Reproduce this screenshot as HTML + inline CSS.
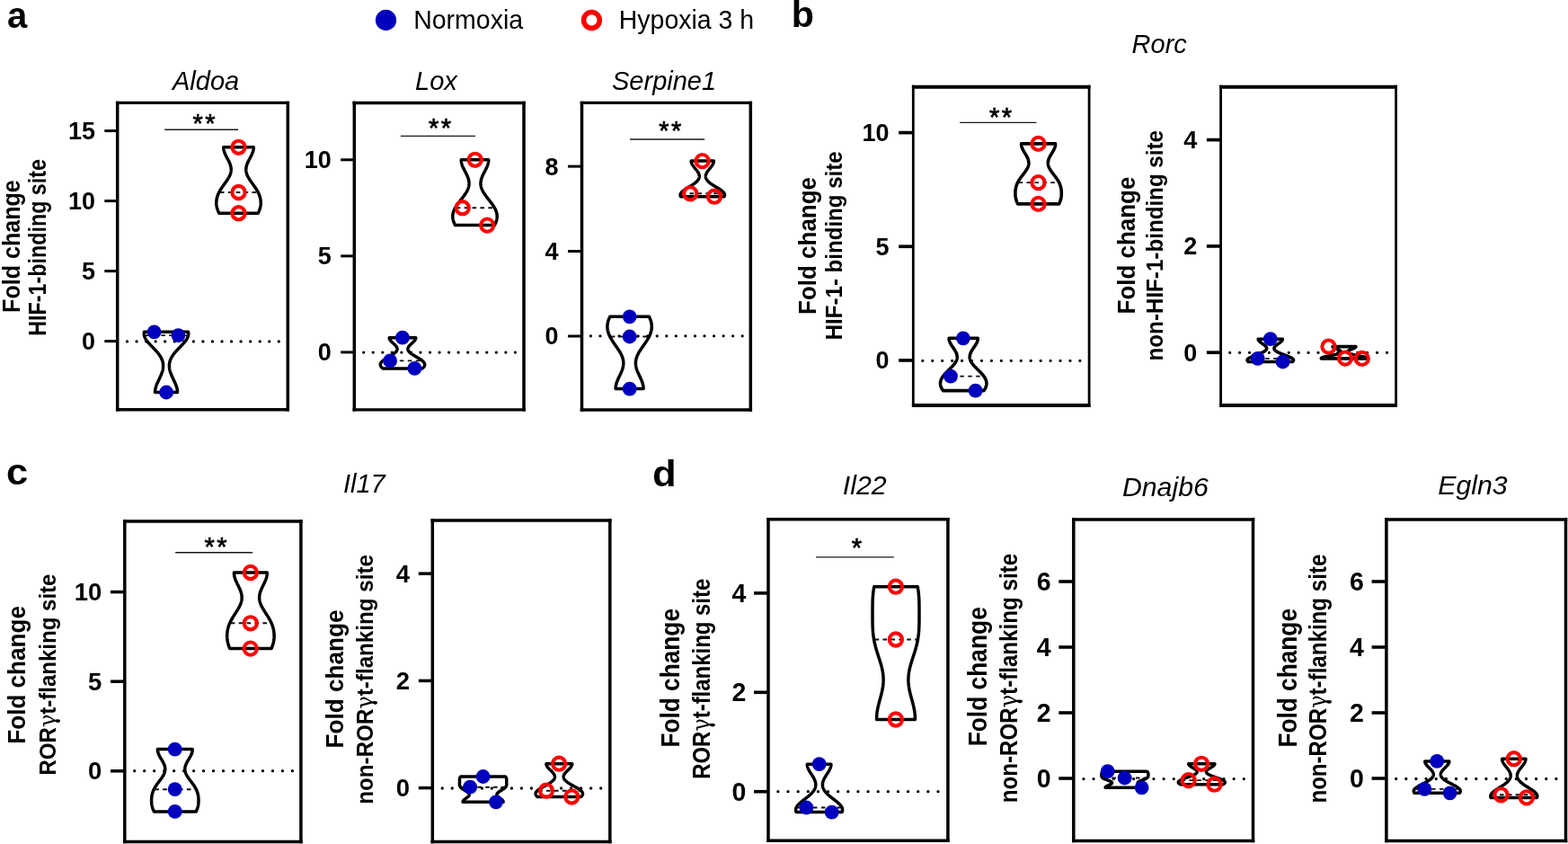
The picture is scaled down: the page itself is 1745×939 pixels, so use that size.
<!DOCTYPE html>
<html><head><meta charset="utf-8"><title>Figure</title>
<style>
html,body{margin:0;padding:0;background:#fff;}
svg{display:block;}
text{font-family:"Liberation Sans",Arial,Helvetica,sans-serif;fill:#000;}
.tk{font-size:27px;font-weight:bold;}
.yl1{font-size:28.5px;font-weight:bold;}
.yl2{font-size:26.5px;font-weight:bold;}
.gam{font-family:"DejaVu Serif","Liberation Serif",serif;font-weight:normal;}
.ti{font-size:29px;font-style:italic;}
.lg{font-size:28.5px;}
.pl{font-size:40px;font-weight:bold;}
.st{font-size:29px;stroke:#000;stroke-width:0.7px;}
</style></head><body>
<svg width="1745" height="939" viewBox="0 0 1745 939">
<rect width="1745" height="939" fill="#fff"/>
<line x1="141.5" y1="379.9" x2="310.31" y2="379.9" stroke="#000" stroke-width="3.3" stroke-linecap="round" stroke-dasharray="0 10.5500"/>
<line x1="116.3" y1="379.63" x2="130.7" y2="379.63" stroke="#000" stroke-width="3.0"/>
<text transform="translate(105.90,389.02) scale(1,1.03)" class="tk" style="font-size:27px" text-anchor="end">0</text>
<line x1="116.3" y1="301.61" x2="130.7" y2="301.61" stroke="#000" stroke-width="3.0"/>
<text transform="translate(105.90,311.00) scale(1,1.03)" class="tk" style="font-size:27px" text-anchor="end">5</text>
<line x1="116.3" y1="223.59" x2="130.7" y2="223.59" stroke="#000" stroke-width="3.0"/>
<text transform="translate(105.90,232.98) scale(1,1.03)" class="tk" style="font-size:27px" text-anchor="end">10</text>
<line x1="116.3" y1="145.57" x2="130.7" y2="145.57" stroke="#000" stroke-width="3.0"/>
<text transform="translate(105.90,154.96) scale(1,1.03)" class="tk" style="font-size:27px" text-anchor="end">15</text>
<path d="M160.49,369.30 L160.41,369.72 L160.36,370.14 L160.32,370.56 L160.30,370.98 L160.30,371.40 L160.32,371.82 L160.36,372.24 L160.41,372.66 L160.48,373.08 L160.58,373.50 L160.69,373.92 L160.82,374.34 L160.96,374.76 L161.13,375.18 L161.31,375.60 L161.50,376.02 L161.72,376.44 L161.94,376.86 L162.19,377.28 L162.45,377.70 L162.72,378.12 L163.00,378.54 L163.30,378.96 L163.61,379.38 L163.93,379.80 L164.27,380.22 L164.61,380.64 L164.96,381.06 L165.32,381.48 L165.69,381.90 L166.07,382.32 L166.45,382.74 L166.84,383.16 L167.23,383.58 L167.63,384.00 L168.03,384.42 L168.43,384.84 L168.84,385.26 L169.25,385.68 L169.66,386.10 L170.06,386.52 L170.47,386.94 L170.88,387.36 L171.28,387.78 L171.69,388.20 L172.09,388.62 L172.48,389.04 L172.88,389.46 L173.26,389.88 L173.65,390.30 L174.02,390.72 L174.39,391.14 L174.76,391.56 L175.11,391.98 L175.46,392.40 L175.80,392.82 L176.14,393.24 L176.46,393.66 L176.78,394.08 L177.09,394.50 L177.39,394.92 L177.68,395.34 L177.95,395.76 L178.22,396.18 L178.48,396.60 L178.73,397.02 L178.97,397.44 L179.20,397.86 L179.42,398.28 L179.63,398.70 L179.83,399.12 L180.01,399.54 L180.19,399.96 L180.36,400.38 L180.51,400.80 L180.66,401.22 L180.79,401.64 L180.91,402.06 L181.03,402.48 L181.13,402.90 L181.22,403.32 L181.31,403.74 L181.38,404.16 L181.44,404.58 L181.49,405.00 L181.53,405.42 L181.56,405.84 L181.59,406.26 L181.60,406.68 L181.60,407.10 L181.59,407.52 L181.58,407.94 L181.55,408.36 L181.52,408.78 L181.48,409.20 L181.43,409.62 L181.37,410.04 L181.30,410.46 L181.22,410.88 L181.14,411.30 L181.05,411.72 L180.95,412.14 L180.84,412.56 L180.73,412.98 L180.61,413.40 L180.48,413.82 L180.35,414.24 L180.21,414.66 L180.06,415.08 L179.91,415.50 L179.75,415.92 L179.59,416.34 L179.42,416.76 L179.25,417.18 L179.08,417.60 L178.90,418.02 L178.71,418.44 L178.53,418.86 L178.34,419.28 L178.14,419.70 L177.95,420.12 L177.75,420.54 L177.55,420.96 L177.35,421.38 L177.15,421.80 L176.95,422.22 L176.75,422.64 L176.55,423.06 L176.35,423.48 L176.15,423.90 L175.95,424.32 L175.76,424.74 L175.56,425.16 L175.37,425.58 L175.19,426.00 L175.00,426.42 L174.82,426.84 L174.65,427.26 L174.48,427.68 L174.31,428.10 L174.15,428.52 L174.00,428.94 L173.85,429.36 L173.71,429.78 L173.58,430.20 L173.45,430.62 L173.33,431.04 L173.22,431.46 L173.11,431.88 L173.02,432.30 L172.93,432.72 L172.85,433.14 L172.78,433.56 L172.72,433.98 L172.67,434.40 L172.62,434.82 L172.59,435.24 L172.57,435.66 L172.55,436.08 L172.55,436.50 L197.45,436.50 L197.45,436.08 L197.43,435.66 L197.41,435.24 L197.38,434.82 L197.33,434.40 L197.28,433.98 L197.22,433.56 L197.15,433.14 L197.07,432.72 L196.98,432.30 L196.89,431.88 L196.78,431.46 L196.67,431.04 L196.55,430.62 L196.42,430.20 L196.29,429.78 L196.15,429.36 L196.00,428.94 L195.85,428.52 L195.69,428.10 L195.52,427.68 L195.35,427.26 L195.18,426.84 L195.00,426.42 L194.81,426.00 L194.63,425.58 L194.44,425.16 L194.24,424.74 L194.05,424.32 L193.85,423.90 L193.65,423.48 L193.45,423.06 L193.25,422.64 L193.05,422.22 L192.85,421.80 L192.65,421.38 L192.45,420.96 L192.25,420.54 L192.05,420.12 L191.86,419.70 L191.66,419.28 L191.47,418.86 L191.29,418.44 L191.10,418.02 L190.92,417.60 L190.75,417.18 L190.58,416.76 L190.41,416.34 L190.25,415.92 L190.09,415.50 L189.94,415.08 L189.79,414.66 L189.65,414.24 L189.52,413.82 L189.39,413.40 L189.27,412.98 L189.16,412.56 L189.05,412.14 L188.95,411.72 L188.86,411.30 L188.78,410.88 L188.70,410.46 L188.63,410.04 L188.57,409.62 L188.52,409.20 L188.48,408.78 L188.45,408.36 L188.42,407.94 L188.41,407.52 L188.40,407.10 L188.40,406.68 L188.41,406.26 L188.44,405.84 L188.47,405.42 L188.51,405.00 L188.56,404.58 L188.62,404.16 L188.69,403.74 L188.78,403.32 L188.87,402.90 L188.97,402.48 L189.09,402.06 L189.21,401.64 L189.34,401.22 L189.49,400.80 L189.64,400.38 L189.81,399.96 L189.99,399.54 L190.17,399.12 L190.37,398.70 L190.58,398.28 L190.80,397.86 L191.03,397.44 L191.27,397.02 L191.52,396.60 L191.78,396.18 L192.05,395.76 L192.32,395.34 L192.61,394.92 L192.91,394.50 L193.22,394.08 L193.54,393.66 L193.86,393.24 L194.20,392.82 L194.54,392.40 L194.89,391.98 L195.24,391.56 L195.61,391.14 L195.98,390.72 L196.35,390.30 L196.74,389.88 L197.12,389.46 L197.52,389.04 L197.91,388.62 L198.31,388.20 L198.72,387.78 L199.12,387.36 L199.53,386.94 L199.94,386.52 L200.34,386.10 L200.75,385.68 L201.16,385.26 L201.57,384.84 L201.97,384.42 L202.37,384.00 L202.77,383.58 L203.16,383.16 L203.55,382.74 L203.93,382.32 L204.31,381.90 L204.68,381.48 L205.04,381.06 L205.39,380.64 L205.73,380.22 L206.07,379.80 L206.39,379.38 L206.70,378.96 L207.00,378.54 L207.28,378.12 L207.55,377.70 L207.81,377.28 L208.06,376.86 L208.28,376.44 L208.50,376.02 L208.69,375.60 L208.87,375.18 L209.04,374.76 L209.18,374.34 L209.31,373.92 L209.42,373.50 L209.52,373.08 L209.59,372.66 L209.64,372.24 L209.68,371.82 L209.70,371.40 L209.70,370.98 L209.68,370.56 L209.64,370.14 L209.59,369.72 L209.51,369.30 Z" fill="none" stroke="#000" stroke-width="3.5" stroke-linejoin="round"/>
<line x1="161.48" y1="373.10" x2="208.52" y2="373.10" stroke="#111" stroke-width="1.9" stroke-dasharray="4.6 4.3"/>
<path d="M248.79,163.80 L248.79,164.26 L248.81,164.72 L248.84,165.18 L248.88,165.64 L248.94,166.09 L249.02,166.55 L249.11,167.01 L249.21,167.47 L249.32,167.93 L249.45,168.39 L249.59,168.85 L249.74,169.31 L249.90,169.76 L250.07,170.22 L250.25,170.68 L250.45,171.14 L250.65,171.60 L250.85,172.06 L251.07,172.52 L251.29,172.98 L251.52,173.43 L251.75,173.89 L251.99,174.35 L252.23,174.81 L252.47,175.27 L252.71,175.73 L252.96,176.19 L253.20,176.65 L253.45,177.10 L253.69,177.56 L253.93,178.02 L254.16,178.48 L254.40,178.94 L254.62,179.40 L254.84,179.86 L255.06,180.31 L255.27,180.77 L255.47,181.23 L255.66,181.69 L255.85,182.15 L256.02,182.61 L256.18,183.07 L256.34,183.53 L256.48,183.99 L256.61,184.44 L256.73,184.90 L256.83,185.36 L256.92,185.82 L257.00,186.28 L257.07,186.74 L257.12,187.20 L257.16,187.66 L257.18,188.11 L257.19,188.57 L257.18,189.03 L257.16,189.49 L257.13,189.95 L257.08,190.41 L257.01,190.87 L256.93,191.32 L256.84,191.78 L256.73,192.24 L256.61,192.70 L256.47,193.16 L256.32,193.62 L256.16,194.08 L255.98,194.54 L255.80,195.00 L255.59,195.45 L255.38,195.91 L255.16,196.37 L254.92,196.83 L254.68,197.29 L254.42,197.75 L254.16,198.21 L253.89,198.66 L253.61,199.12 L253.32,199.58 L253.02,200.04 L252.72,200.50 L252.41,200.96 L252.10,201.42 L251.78,201.88 L251.46,202.34 L251.13,202.79 L250.80,203.25 L250.47,203.71 L250.14,204.17 L249.81,204.63 L249.48,205.09 L249.15,205.55 L248.82,206.00 L248.49,206.46 L248.16,206.92 L247.84,207.38 L247.52,207.84 L247.20,208.30 L246.89,208.76 L246.58,209.22 L246.28,209.68 L245.98,210.13 L245.69,210.59 L245.41,211.05 L245.13,211.51 L244.86,211.97 L244.59,212.43 L244.34,212.89 L244.09,213.34 L243.85,213.80 L243.62,214.26 L243.40,214.72 L243.18,215.18 L242.98,215.64 L242.78,216.10 L242.59,216.56 L242.42,217.01 L242.25,217.47 L242.09,217.93 L241.94,218.39 L241.80,218.85 L241.66,219.31 L241.54,219.77 L241.43,220.23 L241.33,220.69 L241.23,221.14 L241.15,221.60 L241.07,222.06 L241.00,222.52 L240.95,222.98 L240.90,223.44 L240.86,223.90 L240.83,224.35 L240.81,224.81 L240.80,225.27 L240.80,225.73 L240.81,226.19 L240.82,226.65 L240.85,227.11 L240.89,227.57 L240.93,228.02 L240.99,228.48 L241.05,228.94 L241.12,229.40 L241.20,229.86 L241.30,230.32 L241.40,230.78 L241.51,231.24 L241.63,231.69 L241.76,232.15 L241.90,232.61 L242.05,233.07 L242.20,233.53 L242.37,233.99 L242.55,234.45 L242.74,234.91 L242.93,235.36 L243.14,235.82 L243.35,236.28 L243.58,236.74 L243.81,237.20 L287.19,237.20 L287.42,236.74 L287.65,236.28 L287.86,235.82 L288.07,235.36 L288.26,234.91 L288.45,234.45 L288.63,233.99 L288.80,233.53 L288.95,233.07 L289.10,232.61 L289.24,232.15 L289.37,231.69 L289.49,231.24 L289.60,230.78 L289.70,230.32 L289.80,229.86 L289.88,229.40 L289.95,228.94 L290.01,228.48 L290.07,228.02 L290.11,227.57 L290.15,227.11 L290.18,226.65 L290.19,226.19 L290.20,225.73 L290.20,225.27 L290.19,224.81 L290.17,224.35 L290.14,223.90 L290.10,223.44 L290.05,222.98 L290.00,222.52 L289.93,222.06 L289.85,221.60 L289.77,221.14 L289.67,220.69 L289.57,220.23 L289.46,219.77 L289.34,219.31 L289.20,218.85 L289.06,218.39 L288.91,217.93 L288.75,217.47 L288.58,217.01 L288.41,216.56 L288.22,216.10 L288.02,215.64 L287.82,215.18 L287.60,214.72 L287.38,214.26 L287.15,213.80 L286.91,213.34 L286.66,212.89 L286.41,212.43 L286.14,211.97 L285.87,211.51 L285.59,211.05 L285.31,210.59 L285.02,210.13 L284.72,209.68 L284.42,209.22 L284.11,208.76 L283.80,208.30 L283.48,207.84 L283.16,207.38 L282.84,206.92 L282.51,206.46 L282.18,206.00 L281.85,205.55 L281.52,205.09 L281.19,204.63 L280.86,204.17 L280.53,203.71 L280.20,203.25 L279.87,202.79 L279.54,202.34 L279.22,201.88 L278.90,201.42 L278.59,200.96 L278.28,200.50 L277.98,200.04 L277.68,199.58 L277.39,199.12 L277.11,198.66 L276.84,198.21 L276.58,197.75 L276.32,197.29 L276.08,196.83 L275.84,196.37 L275.62,195.91 L275.41,195.45 L275.20,195.00 L275.02,194.54 L274.84,194.08 L274.68,193.62 L274.53,193.16 L274.39,192.70 L274.27,192.24 L274.16,191.78 L274.07,191.32 L273.99,190.87 L273.92,190.41 L273.87,189.95 L273.84,189.49 L273.82,189.03 L273.81,188.57 L273.82,188.11 L273.84,187.66 L273.88,187.20 L273.93,186.74 L274.00,186.28 L274.08,185.82 L274.17,185.36 L274.27,184.90 L274.39,184.44 L274.52,183.99 L274.66,183.53 L274.82,183.07 L274.98,182.61 L275.15,182.15 L275.34,181.69 L275.53,181.23 L275.73,180.77 L275.94,180.31 L276.16,179.86 L276.38,179.40 L276.60,178.94 L276.84,178.48 L277.07,178.02 L277.31,177.56 L277.55,177.10 L277.80,176.65 L278.04,176.19 L278.29,175.73 L278.53,175.27 L278.77,174.81 L279.01,174.35 L279.25,173.89 L279.48,173.43 L279.71,172.98 L279.93,172.52 L280.15,172.06 L280.35,171.60 L280.55,171.14 L280.75,170.68 L280.93,170.22 L281.10,169.76 L281.26,169.31 L281.41,168.85 L281.55,168.39 L281.68,167.93 L281.79,167.47 L281.89,167.01 L281.98,166.55 L282.06,166.09 L282.12,165.64 L282.16,165.18 L282.19,164.72 L282.21,164.26 L282.21,163.80 Z" fill="none" stroke="#000" stroke-width="3.5" stroke-linejoin="round"/>
<line x1="244.85" y1="214.00" x2="286.15" y2="214.00" stroke="#111" stroke-width="1.9" stroke-dasharray="4.6 4.3"/>
<circle cx="171.6" cy="369.3" r="7.9" fill="#0000bd"/>
<circle cx="198.4" cy="373.1" r="7.9" fill="#0000bd"/>
<circle cx="185.1" cy="436.5" r="7.9" fill="#0000bd"/>
<circle cx="265.5" cy="163.8" r="7.1" fill="none" stroke="#ff0000" stroke-width="4.1"/>
<circle cx="265.5" cy="214.0" r="7.1" fill="none" stroke="#ff0000" stroke-width="4.1"/>
<circle cx="265.5" cy="237.2" r="7.1" fill="none" stroke="#ff0000" stroke-width="4.1"/>
<path d="M130.7,112.70 V457.40 M320.3,112.70 V457.40" stroke="#000" stroke-width="3.5" fill="none"/>
<path d="M128.95,114.4 H322.05 M128.95,455.7 H322.05" stroke="#000" stroke-width="3.4" fill="none"/>
<line x1="183.2" y1="144.3" x2="265.0" y2="144.3" stroke="#1a1a1a" stroke-width="1.4"/>
<text x="220.10" y="146.50" class="st" text-anchor="middle">*</text>
<text x="233.90" y="146.50" class="st" text-anchor="middle">*</text>
<text transform="translate(21.80,347.90) rotate(-90)" class="yl1" style="font-size:28.5px" textLength="147.70" lengthAdjust="spacingAndGlyphs">Fold change</text>
<text transform="translate(50.80,373.70) rotate(-90)" class="yl2" style="font-size:27.3px" textLength="196.70" lengthAdjust="spacingAndGlyphs">HIF-1-binding site</text>
<text x="192.0" y="100.1" class="ti" style="font-size:29px">Aldoa</text>
<line x1="404.7" y1="392.1" x2="573.41" y2="392.1" stroke="#000" stroke-width="3.3" stroke-linecap="round" stroke-dasharray="0 10.5437"/>
<line x1="379.2" y1="391.90" x2="394.3" y2="391.90" stroke="#000" stroke-width="3.0"/>
<text transform="translate(368.80,401.29) scale(1,1.03)" class="tk" style="font-size:27px" text-anchor="end">0</text>
<line x1="379.2" y1="284.85" x2="394.3" y2="284.85" stroke="#000" stroke-width="3.0"/>
<text transform="translate(368.80,294.24) scale(1,1.03)" class="tk" style="font-size:27px" text-anchor="end">5</text>
<line x1="379.2" y1="177.80" x2="394.3" y2="177.80" stroke="#000" stroke-width="3.0"/>
<text transform="translate(368.80,187.19) scale(1,1.03)" class="tk" style="font-size:27px" text-anchor="end">10</text>
<path d="M433.22,375.70 L433.23,375.91 L433.24,376.13 L433.27,376.34 L433.32,376.56 L433.37,376.77 L433.44,376.98 L433.52,377.20 L433.61,377.41 L433.72,377.62 L433.83,377.84 L433.96,378.05 L434.09,378.26 L434.24,378.48 L434.40,378.69 L434.56,378.91 L434.74,379.12 L434.92,379.33 L435.11,379.55 L435.31,379.76 L435.51,379.97 L435.72,380.19 L435.94,380.40 L436.16,380.62 L436.38,380.83 L436.61,381.04 L436.84,381.26 L437.07,381.47 L437.31,381.69 L437.54,381.90 L437.78,382.11 L438.01,382.33 L438.24,382.54 L438.47,382.75 L438.70,382.97 L438.93,383.18 L439.15,383.39 L439.37,383.61 L439.58,383.82 L439.79,384.04 L439.99,384.25 L440.18,384.46 L440.37,384.68 L440.55,384.89 L440.72,385.10 L440.88,385.32 L441.03,385.53 L441.18,385.75 L441.31,385.96 L441.44,386.17 L441.55,386.39 L441.65,386.60 L441.74,386.81 L441.82,387.03 L441.89,387.24 L441.95,387.46 L441.99,387.67 L442.02,387.88 L442.04,388.10 L442.05,388.31 L442.04,388.52 L442.02,388.74 L441.99,388.95 L441.94,389.17 L441.88,389.38 L441.81,389.59 L441.73,389.81 L441.63,390.02 L441.52,390.24 L441.39,390.45 L441.26,390.66 L441.11,390.88 L440.94,391.09 L440.77,391.30 L440.58,391.52 L440.39,391.73 L440.18,391.94 L439.96,392.16 L439.72,392.37 L439.48,392.59 L439.23,392.80 L438.97,393.01 L438.69,393.23 L438.41,393.44 L438.12,393.65 L437.82,393.87 L437.51,394.08 L437.20,394.30 L436.88,394.51 L436.55,394.72 L436.21,394.94 L435.87,395.15 L435.53,395.37 L435.18,395.58 L434.83,395.79 L434.47,396.01 L434.11,396.22 L433.75,396.43 L433.38,396.65 L433.02,396.86 L432.65,397.07 L432.28,397.29 L431.92,397.50 L431.55,397.72 L431.19,397.93 L430.83,398.14 L430.47,398.36 L430.11,398.57 L429.76,398.78 L429.42,399.00 L429.07,399.21 L428.74,399.43 L428.41,399.64 L428.08,399.85 L427.77,400.07 L427.46,400.28 L427.16,400.50 L426.87,400.71 L426.58,400.92 L426.31,401.14 L426.04,401.35 L425.79,401.56 L425.55,401.78 L425.31,401.99 L425.09,402.20 L424.88,402.42 L424.69,402.63 L424.50,402.85 L424.33,403.06 L424.17,403.27 L424.02,403.49 L423.89,403.70 L423.76,403.91 L423.66,404.13 L423.56,404.34 L423.48,404.56 L423.42,404.77 L423.37,404.98 L423.33,405.20 L423.31,405.41 L423.30,405.62 L423.31,405.84 L423.33,406.05 L423.36,406.27 L423.41,406.48 L423.47,406.69 L423.55,406.91 L423.64,407.12 L423.74,407.33 L423.86,407.55 L423.99,407.76 L424.14,407.98 L424.30,408.19 L424.47,408.40 L424.65,408.62 L424.85,408.83 L425.06,409.04 L425.28,409.26 L425.51,409.47 L425.75,409.69 L426.01,409.90 L469.99,409.90 L470.25,409.69 L470.49,409.47 L470.72,409.26 L470.94,409.04 L471.15,408.83 L471.35,408.62 L471.53,408.40 L471.70,408.19 L471.86,407.98 L472.01,407.76 L472.14,407.55 L472.26,407.33 L472.36,407.12 L472.45,406.91 L472.53,406.69 L472.59,406.48 L472.64,406.27 L472.67,406.05 L472.69,405.84 L472.70,405.62 L472.69,405.41 L472.67,405.20 L472.63,404.98 L472.58,404.77 L472.52,404.56 L472.44,404.34 L472.34,404.13 L472.24,403.91 L472.11,403.70 L471.98,403.49 L471.83,403.27 L471.67,403.06 L471.50,402.85 L471.31,402.63 L471.12,402.42 L470.91,402.20 L470.69,401.99 L470.45,401.78 L470.21,401.56 L469.96,401.35 L469.69,401.14 L469.42,400.92 L469.13,400.71 L468.84,400.50 L468.54,400.28 L468.23,400.07 L467.92,399.85 L467.59,399.64 L467.26,399.43 L466.93,399.21 L466.58,399.00 L466.24,398.78 L465.89,398.57 L465.53,398.36 L465.17,398.14 L464.81,397.93 L464.45,397.72 L464.08,397.50 L463.72,397.29 L463.35,397.07 L462.98,396.86 L462.62,396.65 L462.25,396.43 L461.89,396.22 L461.53,396.01 L461.17,395.79 L460.82,395.58 L460.47,395.37 L460.13,395.15 L459.79,394.94 L459.45,394.72 L459.12,394.51 L458.80,394.30 L458.49,394.08 L458.18,393.87 L457.88,393.65 L457.59,393.44 L457.31,393.23 L457.03,393.01 L456.77,392.80 L456.52,392.59 L456.28,392.37 L456.04,392.16 L455.82,391.94 L455.61,391.73 L455.42,391.52 L455.23,391.30 L455.06,391.09 L454.89,390.88 L454.74,390.66 L454.61,390.45 L454.48,390.24 L454.37,390.02 L454.27,389.81 L454.19,389.59 L454.12,389.38 L454.06,389.17 L454.01,388.95 L453.98,388.74 L453.96,388.52 L453.95,388.31 L453.96,388.10 L453.98,387.88 L454.01,387.67 L454.05,387.46 L454.11,387.24 L454.18,387.03 L454.26,386.81 L454.35,386.60 L454.45,386.39 L454.56,386.17 L454.69,385.96 L454.82,385.75 L454.97,385.53 L455.12,385.32 L455.28,385.10 L455.45,384.89 L455.63,384.68 L455.82,384.46 L456.01,384.25 L456.21,384.04 L456.42,383.82 L456.63,383.61 L456.85,383.39 L457.07,383.18 L457.30,382.97 L457.53,382.75 L457.76,382.54 L457.99,382.33 L458.22,382.11 L458.46,381.90 L458.69,381.69 L458.93,381.47 L459.16,381.26 L459.39,381.04 L459.62,380.83 L459.84,380.62 L460.06,380.40 L460.28,380.19 L460.49,379.97 L460.69,379.76 L460.89,379.55 L461.08,379.33 L461.26,379.12 L461.44,378.91 L461.60,378.69 L461.76,378.48 L461.91,378.26 L462.04,378.05 L462.17,377.84 L462.28,377.62 L462.39,377.41 L462.48,377.20 L462.56,376.98 L462.63,376.77 L462.68,376.56 L462.73,376.34 L462.76,376.13 L462.77,375.91 L462.78,375.70 Z" fill="none" stroke="#000" stroke-width="3.5" stroke-linejoin="round"/>
<line x1="427.04" y1="401.40" x2="468.96" y2="401.40" stroke="#111" stroke-width="1.9" stroke-dasharray="4.6 4.3"/>
<path d="M513.28,177.80 L513.29,178.26 L513.30,178.71 L513.34,179.17 L513.38,179.62 L513.44,180.08 L513.51,180.53 L513.59,180.99 L513.68,181.44 L513.79,181.90 L513.91,182.35 L514.04,182.81 L514.18,183.26 L514.33,183.72 L514.49,184.17 L514.66,184.62 L514.84,185.08 L515.03,185.53 L515.22,185.99 L515.43,186.45 L515.64,186.90 L515.85,187.36 L516.07,187.81 L516.30,188.27 L516.52,188.72 L516.76,189.18 L516.99,189.63 L517.23,190.09 L517.46,190.54 L517.70,191.00 L517.94,191.45 L518.18,191.91 L518.41,192.36 L518.64,192.81 L518.87,193.27 L519.10,193.73 L519.32,194.18 L519.54,194.64 L519.75,195.09 L519.95,195.55 L520.15,196.00 L520.34,196.46 L520.52,196.91 L520.70,197.37 L520.86,197.82 L521.02,198.28 L521.17,198.73 L521.30,199.19 L521.43,199.64 L521.54,200.09 L521.65,200.55 L521.74,201.00 L521.82,201.46 L521.88,201.92 L521.94,202.37 L521.98,202.83 L522.01,203.28 L522.03,203.74 L522.03,204.19 L522.02,204.65 L521.99,205.10 L521.96,205.56 L521.90,206.01 L521.84,206.47 L521.76,206.92 L521.67,207.38 L521.57,207.83 L521.45,208.28 L521.32,208.74 L521.17,209.19 L521.02,209.65 L520.85,210.11 L520.67,210.56 L520.47,211.01 L520.27,211.47 L520.05,211.93 L519.82,212.38 L519.58,212.84 L519.33,213.29 L519.07,213.75 L518.81,214.20 L518.53,214.66 L518.24,215.11 L517.95,215.56 L517.64,216.02 L517.33,216.47 L517.01,216.93 L516.69,217.38 L516.36,217.84 L516.03,218.30 L515.69,218.75 L515.34,219.20 L514.99,219.66 L514.64,220.12 L514.29,220.57 L513.94,221.03 L513.58,221.48 L513.22,221.94 L512.86,222.39 L512.51,222.84 L512.15,223.30 L511.79,223.75 L511.44,224.21 L511.09,224.66 L510.74,225.12 L510.40,225.57 L510.06,226.03 L509.73,226.49 L509.40,226.94 L509.07,227.39 L508.75,227.85 L508.44,228.31 L508.14,228.76 L507.84,229.22 L507.55,229.67 L507.27,230.12 L507.00,230.58 L506.74,231.03 L506.48,231.49 L506.24,231.94 L506.01,232.40 L505.78,232.85 L505.57,233.31 L505.37,233.76 L505.18,234.22 L505.00,234.68 L504.84,235.13 L504.68,235.59 L504.54,236.04 L504.41,236.50 L504.29,236.95 L504.18,237.41 L504.09,237.86 L504.01,238.31 L503.94,238.77 L503.89,239.22 L503.85,239.68 L503.82,240.13 L503.80,240.59 L503.80,241.04 L503.81,241.50 L503.84,241.95 L503.87,242.41 L503.92,242.87 L503.99,243.32 L504.06,243.78 L504.15,244.23 L504.25,244.69 L504.37,245.14 L504.50,245.59 L504.64,246.05 L504.79,246.50 L504.95,246.96 L505.13,247.41 L505.32,247.87 L505.51,248.32 L505.72,248.78 L505.95,249.23 L506.18,249.69 L506.42,250.14 L506.67,250.60 L550.33,250.60 L550.58,250.14 L550.82,249.69 L551.05,249.23 L551.28,248.78 L551.49,248.32 L551.68,247.87 L551.87,247.41 L552.05,246.96 L552.21,246.50 L552.36,246.05 L552.50,245.59 L552.63,245.14 L552.75,244.69 L552.85,244.23 L552.94,243.78 L553.01,243.32 L553.08,242.87 L553.13,242.41 L553.16,241.95 L553.19,241.50 L553.20,241.04 L553.20,240.59 L553.18,240.13 L553.15,239.68 L553.11,239.22 L553.06,238.77 L552.99,238.31 L552.91,237.86 L552.82,237.41 L552.71,236.95 L552.59,236.50 L552.46,236.04 L552.32,235.59 L552.16,235.13 L552.00,234.68 L551.82,234.22 L551.63,233.76 L551.43,233.31 L551.22,232.85 L550.99,232.40 L550.76,231.94 L550.52,231.49 L550.26,231.03 L550.00,230.58 L549.73,230.12 L549.45,229.67 L549.16,229.22 L548.86,228.76 L548.56,228.31 L548.25,227.85 L547.93,227.39 L547.60,226.94 L547.27,226.49 L546.94,226.03 L546.60,225.57 L546.26,225.12 L545.91,224.66 L545.56,224.21 L545.21,223.75 L544.85,223.30 L544.49,222.84 L544.14,222.39 L543.78,221.94 L543.42,221.48 L543.06,221.03 L542.71,220.57 L542.36,220.12 L542.01,219.66 L541.66,219.20 L541.31,218.75 L540.97,218.30 L540.64,217.84 L540.31,217.38 L539.99,216.93 L539.67,216.47 L539.36,216.02 L539.05,215.56 L538.76,215.11 L538.47,214.66 L538.19,214.20 L537.93,213.75 L537.67,213.29 L537.42,212.84 L537.18,212.38 L536.95,211.93 L536.73,211.47 L536.53,211.01 L536.33,210.56 L536.15,210.11 L535.98,209.65 L535.83,209.19 L535.68,208.74 L535.55,208.28 L535.43,207.83 L535.33,207.38 L535.24,206.92 L535.16,206.47 L535.10,206.01 L535.04,205.56 L535.01,205.10 L534.98,204.65 L534.97,204.19 L534.97,203.74 L534.99,203.28 L535.02,202.83 L535.06,202.37 L535.12,201.92 L535.18,201.46 L535.26,201.00 L535.35,200.55 L535.46,200.09 L535.57,199.64 L535.70,199.19 L535.83,198.73 L535.98,198.28 L536.14,197.82 L536.30,197.37 L536.48,196.91 L536.66,196.46 L536.85,196.00 L537.05,195.55 L537.25,195.09 L537.46,194.64 L537.68,194.18 L537.90,193.73 L538.13,193.27 L538.36,192.81 L538.59,192.36 L538.82,191.91 L539.06,191.45 L539.30,191.00 L539.54,190.54 L539.77,190.09 L540.01,189.63 L540.24,189.18 L540.48,188.72 L540.70,188.27 L540.93,187.81 L541.15,187.36 L541.36,186.90 L541.57,186.45 L541.78,185.99 L541.97,185.53 L542.16,185.08 L542.34,184.62 L542.51,184.17 L542.67,183.72 L542.82,183.26 L542.96,182.81 L543.09,182.35 L543.21,181.90 L543.32,181.44 L543.41,180.99 L543.49,180.53 L543.56,180.08 L543.62,179.62 L543.66,179.17 L543.70,178.71 L543.71,178.26 L543.72,177.80 Z" fill="none" stroke="#000" stroke-width="3.5" stroke-linejoin="round"/>
<line x1="507.74" y1="231.20" x2="549.26" y2="231.20" stroke="#111" stroke-width="1.9" stroke-dasharray="4.6 4.3"/>
<circle cx="447.9" cy="375.7" r="7.9" fill="#0000bd"/>
<circle cx="434.1" cy="401.4" r="7.9" fill="#0000bd"/>
<circle cx="461.4" cy="409.9" r="7.9" fill="#0000bd"/>
<circle cx="528.7" cy="177.8" r="7.1" fill="none" stroke="#ff0000" stroke-width="4.1"/>
<circle cx="514.7" cy="231.2" r="7.1" fill="none" stroke="#ff0000" stroke-width="4.1"/>
<circle cx="542.2" cy="250.6" r="7.1" fill="none" stroke="#ff0000" stroke-width="4.1"/>
<path d="M394.3,112.80 V457.60 M583,112.80 V457.60" stroke="#000" stroke-width="3.5" fill="none"/>
<path d="M392.55,114.5 H584.75 M392.55,455.9 H584.75" stroke="#000" stroke-width="3.4" fill="none"/>
<line x1="445.9" y1="151.4" x2="528.9" y2="151.4" stroke="#1a1a1a" stroke-width="1.4"/>
<text x="482.60" y="151.60" class="st" text-anchor="middle">*</text>
<text x="496.40" y="151.60" class="st" text-anchor="middle">*</text>
<text x="462.0" y="99.9" class="ti" style="font-size:29px">Lox</text>
<line x1="657.4" y1="373.8" x2="826.21" y2="373.8" stroke="#000" stroke-width="3.3" stroke-linecap="round" stroke-dasharray="0 10.5500"/>
<line x1="632" y1="374.00" x2="647.5" y2="374.00" stroke="#000" stroke-width="3.0"/>
<text transform="translate(621.60,383.39) scale(1,1.03)" class="tk" style="font-size:27px" text-anchor="end">0</text>
<line x1="632" y1="279.56" x2="647.5" y2="279.56" stroke="#000" stroke-width="3.0"/>
<text transform="translate(621.60,288.95) scale(1,1.03)" class="tk" style="font-size:27px" text-anchor="end">4</text>
<line x1="632" y1="185.12" x2="647.5" y2="185.12" stroke="#000" stroke-width="3.0"/>
<text transform="translate(621.60,194.51) scale(1,1.03)" class="tk" style="font-size:27px" text-anchor="end">8</text>
<path d="M678.84,352.30 L678.59,352.80 L678.35,353.30 L678.12,353.81 L677.90,354.31 L677.69,354.81 L677.49,355.31 L677.30,355.81 L677.13,356.31 L676.96,356.82 L676.81,357.32 L676.67,357.82 L676.54,358.32 L676.42,358.82 L676.31,359.33 L676.22,359.83 L676.13,360.33 L676.06,360.83 L676.01,361.33 L675.96,361.84 L675.93,362.34 L675.91,362.84 L675.90,363.34 L675.90,363.84 L675.92,364.35 L675.95,364.85 L675.99,365.35 L676.05,365.85 L676.11,366.35 L676.19,366.85 L676.28,367.36 L676.38,367.86 L676.50,368.36 L676.63,368.86 L676.76,369.36 L676.91,369.87 L677.08,370.37 L677.25,370.87 L677.43,371.37 L677.63,371.87 L677.83,372.38 L678.05,372.88 L678.27,373.38 L678.51,373.88 L678.75,374.38 L679.01,374.88 L679.27,375.39 L679.54,375.89 L679.82,376.39 L680.11,376.89 L680.41,377.39 L680.71,377.90 L681.02,378.40 L681.33,378.90 L681.66,379.40 L681.98,379.90 L682.32,380.41 L682.65,380.91 L682.99,381.41 L683.34,381.91 L683.68,382.41 L684.03,382.91 L684.38,383.42 L684.73,383.92 L685.09,384.42 L685.44,384.92 L685.79,385.42 L686.14,385.93 L686.49,386.43 L686.84,386.93 L687.18,387.43 L687.52,387.93 L687.86,388.44 L688.19,388.94 L688.52,389.44 L688.84,389.94 L689.16,390.44 L689.47,390.94 L689.77,391.45 L690.06,391.95 L690.35,392.45 L690.63,392.95 L690.89,393.45 L691.15,393.96 L691.40,394.46 L691.64,394.96 L691.87,395.46 L692.08,395.96 L692.29,396.47 L692.48,396.97 L692.66,397.47 L692.83,397.97 L692.98,398.47 L693.13,398.97 L693.25,399.48 L693.37,399.98 L693.47,400.48 L693.56,400.98 L693.64,401.48 L693.70,401.99 L693.75,402.49 L693.78,402.99 L693.80,403.49 L693.81,403.99 L693.80,404.50 L693.78,405.00 L693.75,405.50 L693.70,406.00 L693.64,406.50 L693.57,407.00 L693.49,407.51 L693.39,408.01 L693.28,408.51 L693.16,409.01 L693.03,409.51 L692.89,410.02 L692.74,410.52 L692.58,411.02 L692.40,411.52 L692.22,412.02 L692.04,412.53 L691.84,413.03 L691.64,413.53 L691.43,414.03 L691.21,414.53 L690.99,415.03 L690.77,415.54 L690.54,416.04 L690.30,416.54 L690.07,417.04 L689.83,417.54 L689.59,418.05 L689.35,418.55 L689.11,419.05 L688.87,419.55 L688.64,420.05 L688.40,420.56 L688.17,421.06 L687.94,421.56 L687.72,422.06 L687.50,422.56 L687.29,423.06 L687.09,423.57 L686.89,424.07 L686.70,424.57 L686.51,425.07 L686.34,425.57 L686.18,426.08 L686.02,426.58 L685.88,427.08 L685.75,427.58 L685.63,428.08 L685.52,428.59 L685.43,429.09 L685.34,429.59 L685.27,430.09 L685.21,430.59 L685.17,431.09 L685.14,431.60 L685.12,432.10 L685.12,432.60 L716.08,432.60 L716.08,432.10 L716.06,431.60 L716.03,431.09 L715.99,430.59 L715.93,430.09 L715.86,429.59 L715.77,429.09 L715.68,428.59 L715.57,428.08 L715.45,427.58 L715.32,427.08 L715.18,426.58 L715.02,426.08 L714.86,425.57 L714.69,425.07 L714.50,424.57 L714.31,424.07 L714.11,423.57 L713.91,423.06 L713.70,422.56 L713.48,422.06 L713.26,421.56 L713.03,421.06 L712.80,420.56 L712.56,420.05 L712.33,419.55 L712.09,419.05 L711.85,418.55 L711.61,418.05 L711.37,417.54 L711.13,417.04 L710.90,416.54 L710.66,416.04 L710.43,415.54 L710.21,415.03 L709.99,414.53 L709.77,414.03 L709.56,413.53 L709.36,413.03 L709.16,412.53 L708.98,412.02 L708.80,411.52 L708.62,411.02 L708.46,410.52 L708.31,410.02 L708.17,409.51 L708.04,409.01 L707.92,408.51 L707.81,408.01 L707.71,407.51 L707.63,407.00 L707.56,406.50 L707.50,406.00 L707.45,405.50 L707.42,405.00 L707.40,404.50 L707.39,403.99 L707.40,403.49 L707.42,402.99 L707.45,402.49 L707.50,401.99 L707.56,401.48 L707.64,400.98 L707.73,400.48 L707.83,399.98 L707.95,399.48 L708.07,398.97 L708.22,398.47 L708.37,397.97 L708.54,397.47 L708.72,396.97 L708.91,396.47 L709.12,395.96 L709.33,395.46 L709.56,394.96 L709.80,394.46 L710.05,393.96 L710.31,393.45 L710.57,392.95 L710.85,392.45 L711.14,391.95 L711.43,391.45 L711.73,390.94 L712.04,390.44 L712.36,389.94 L712.68,389.44 L713.01,388.94 L713.34,388.44 L713.68,387.93 L714.02,387.43 L714.36,386.93 L714.71,386.43 L715.06,385.93 L715.41,385.42 L715.76,384.92 L716.11,384.42 L716.47,383.92 L716.82,383.42 L717.17,382.91 L717.52,382.41 L717.86,381.91 L718.21,381.41 L718.55,380.91 L718.88,380.41 L719.22,379.90 L719.54,379.40 L719.87,378.90 L720.18,378.40 L720.49,377.90 L720.79,377.39 L721.09,376.89 L721.38,376.39 L721.66,375.89 L721.93,375.39 L722.19,374.88 L722.45,374.38 L722.69,373.88 L722.93,373.38 L723.15,372.88 L723.37,372.38 L723.57,371.87 L723.77,371.37 L723.95,370.87 L724.12,370.37 L724.29,369.87 L724.44,369.36 L724.57,368.86 L724.70,368.36 L724.82,367.86 L724.92,367.36 L725.01,366.85 L725.09,366.35 L725.15,365.85 L725.21,365.35 L725.25,364.85 L725.28,364.35 L725.30,363.84 L725.30,363.34 L725.29,362.84 L725.27,362.34 L725.24,361.84 L725.19,361.33 L725.14,360.83 L725.07,360.33 L724.98,359.83 L724.89,359.33 L724.78,358.82 L724.66,358.32 L724.53,357.82 L724.39,357.32 L724.24,356.82 L724.07,356.31 L723.90,355.81 L723.71,355.31 L723.51,354.81 L723.30,354.31 L723.08,353.81 L722.85,353.30 L722.61,352.80 L722.36,352.30 Z" fill="none" stroke="#000" stroke-width="3.5" stroke-linejoin="round"/>
<line x1="679.75" y1="374.50" x2="721.45" y2="374.50" stroke="#111" stroke-width="1.9" stroke-dasharray="4.6 4.3"/>
<path d="M769.21,179.10 L769.22,179.35 L769.23,179.59 L769.26,179.84 L769.29,180.09 L769.34,180.34 L769.39,180.59 L769.45,180.83 L769.53,181.08 L769.61,181.33 L769.70,181.57 L769.80,181.82 L769.90,182.07 L770.02,182.32 L770.15,182.56 L770.28,182.81 L770.42,183.06 L770.56,183.31 L770.71,183.56 L770.87,183.80 L771.04,184.05 L771.21,184.30 L771.38,184.54 L771.57,184.79 L771.75,185.04 L771.94,185.29 L772.13,185.53 L772.33,185.78 L772.52,186.03 L772.72,186.28 L772.93,186.53 L773.13,186.77 L773.33,187.02 L773.54,187.27 L773.74,187.51 L773.95,187.76 L774.15,188.01 L774.36,188.26 L774.56,188.50 L774.76,188.75 L774.95,189.00 L775.15,189.25 L775.34,189.50 L775.53,189.74 L775.71,189.99 L775.89,190.24 L776.07,190.48 L776.24,190.73 L776.41,190.98 L776.57,191.23 L776.72,191.47 L776.87,191.72 L777.01,191.97 L777.15,192.22 L777.28,192.47 L777.40,192.71 L777.52,192.96 L777.62,193.21 L777.72,193.45 L777.82,193.70 L777.90,193.95 L777.98,194.20 L778.04,194.44 L778.10,194.69 L778.15,194.94 L778.19,195.19 L778.22,195.44 L778.25,195.68 L778.26,195.93 L778.26,196.18 L778.25,196.42 L778.24,196.67 L778.21,196.92 L778.17,197.17 L778.13,197.41 L778.07,197.66 L778.00,197.91 L777.92,198.16 L777.83,198.41 L777.73,198.65 L777.62,198.90 L777.50,199.15 L777.37,199.39 L777.23,199.64 L777.07,199.89 L776.91,200.14 L776.73,200.38 L776.55,200.63 L776.35,200.88 L776.14,201.13 L775.93,201.38 L775.70,201.62 L775.46,201.87 L775.21,202.12 L774.95,202.36 L774.68,202.61 L774.40,202.86 L774.11,203.11 L773.81,203.35 L773.50,203.60 L773.18,203.85 L772.85,204.10 L772.52,204.34 L772.17,204.59 L771.82,204.84 L771.46,205.09 L771.10,205.33 L770.73,205.58 L770.35,205.83 L769.97,206.08 L769.58,206.32 L769.18,206.57 L768.79,206.82 L768.38,207.07 L767.98,207.31 L767.57,207.56 L767.17,207.81 L766.76,208.06 L766.35,208.30 L765.94,208.55 L765.53,208.80 L765.12,209.05 L764.72,209.29 L764.32,209.54 L763.92,209.79 L763.53,210.04 L763.14,210.28 L762.76,210.53 L762.38,210.78 L762.02,211.03 L761.66,211.27 L761.31,211.52 L760.97,211.77 L760.64,212.02 L760.32,212.26 L760.01,212.51 L759.72,212.76 L759.43,213.01 L759.17,213.25 L758.91,213.50 L758.67,213.75 L758.45,214.00 L758.24,214.25 L758.05,214.49 L757.87,214.74 L757.71,214.99 L757.57,215.23 L757.45,215.48 L757.35,215.73 L757.26,215.98 L757.19,216.22 L757.14,216.47 L757.11,216.72 L757.10,216.97 L757.11,217.21 L757.13,217.46 L757.18,217.71 L757.24,217.96 L757.32,218.20 L757.42,218.45 L757.54,218.70 L806.06,218.70 L806.18,218.45 L806.28,218.20 L806.36,217.96 L806.42,217.71 L806.47,217.46 L806.49,217.21 L806.50,216.97 L806.49,216.72 L806.46,216.47 L806.41,216.22 L806.34,215.98 L806.25,215.73 L806.15,215.48 L806.03,215.23 L805.89,214.99 L805.73,214.74 L805.55,214.49 L805.36,214.25 L805.15,214.00 L804.93,213.75 L804.69,213.50 L804.43,213.25 L804.17,213.01 L803.88,212.76 L803.59,212.51 L803.28,212.26 L802.96,212.02 L802.63,211.77 L802.29,211.52 L801.94,211.27 L801.58,211.03 L801.22,210.78 L800.84,210.53 L800.46,210.28 L800.07,210.04 L799.68,209.79 L799.28,209.54 L798.88,209.29 L798.48,209.05 L798.07,208.80 L797.66,208.55 L797.25,208.30 L796.84,208.06 L796.43,207.81 L796.03,207.56 L795.62,207.31 L795.22,207.07 L794.81,206.82 L794.42,206.57 L794.02,206.32 L793.63,206.08 L793.25,205.83 L792.87,205.58 L792.50,205.33 L792.14,205.09 L791.78,204.84 L791.43,204.59 L791.08,204.34 L790.75,204.10 L790.42,203.85 L790.10,203.60 L789.79,203.35 L789.49,203.11 L789.20,202.86 L788.92,202.61 L788.65,202.36 L788.39,202.12 L788.14,201.87 L787.90,201.62 L787.67,201.38 L787.46,201.13 L787.25,200.88 L787.05,200.63 L786.87,200.38 L786.69,200.14 L786.53,199.89 L786.37,199.64 L786.23,199.39 L786.10,199.15 L785.98,198.90 L785.87,198.65 L785.77,198.41 L785.68,198.16 L785.60,197.91 L785.53,197.66 L785.47,197.41 L785.43,197.17 L785.39,196.92 L785.36,196.67 L785.35,196.42 L785.34,196.18 L785.34,195.93 L785.35,195.68 L785.38,195.44 L785.41,195.19 L785.45,194.94 L785.50,194.69 L785.56,194.44 L785.62,194.20 L785.70,193.95 L785.78,193.70 L785.88,193.45 L785.98,193.21 L786.08,192.96 L786.20,192.71 L786.32,192.47 L786.45,192.22 L786.59,191.97 L786.73,191.72 L786.88,191.47 L787.03,191.23 L787.19,190.98 L787.36,190.73 L787.53,190.48 L787.71,190.24 L787.89,189.99 L788.07,189.74 L788.26,189.50 L788.45,189.25 L788.65,189.00 L788.84,188.75 L789.04,188.50 L789.24,188.26 L789.45,188.01 L789.65,187.76 L789.86,187.51 L790.06,187.27 L790.27,187.02 L790.47,186.77 L790.67,186.53 L790.88,186.28 L791.08,186.03 L791.27,185.78 L791.47,185.53 L791.66,185.29 L791.85,185.04 L792.03,184.79 L792.22,184.54 L792.39,184.30 L792.56,184.05 L792.73,183.80 L792.89,183.56 L793.04,183.31 L793.18,183.06 L793.32,182.81 L793.45,182.56 L793.58,182.32 L793.70,182.07 L793.80,181.82 L793.90,181.57 L793.99,181.33 L794.07,181.08 L794.15,180.83 L794.21,180.59 L794.26,180.34 L794.31,180.09 L794.34,179.84 L794.37,179.59 L794.38,179.35 L794.39,179.10 Z" fill="none" stroke="#000" stroke-width="3.5" stroke-linejoin="round"/>
<line x1="758.57" y1="215.30" x2="805.03" y2="215.30" stroke="#111" stroke-width="1.9" stroke-dasharray="4.6 4.3"/>
<circle cx="700.7" cy="352.3" r="7.9" fill="#0000bd"/>
<circle cx="700.7" cy="374.5" r="7.9" fill="#0000bd"/>
<circle cx="700.7" cy="432.6" r="7.9" fill="#0000bd"/>
<circle cx="781.6" cy="179.1" r="7.1" fill="none" stroke="#ff0000" stroke-width="4.1"/>
<circle cx="768.2" cy="215.3" r="7.1" fill="none" stroke="#ff0000" stroke-width="4.1"/>
<circle cx="795.0" cy="218.7" r="7.1" fill="none" stroke="#ff0000" stroke-width="4.1"/>
<path d="M647.5,112.70 V457.70 M835.3,112.70 V457.70" stroke="#000" stroke-width="3.5" fill="none"/>
<path d="M645.75,114.4 H837.05 M645.75,456 H837.05" stroke="#000" stroke-width="3.4" fill="none"/>
<line x1="701.1" y1="155" x2="784.1" y2="155" stroke="#1a1a1a" stroke-width="1.4"/>
<text x="738.90" y="154.50" class="st" text-anchor="middle">*</text>
<text x="752.70" y="154.50" class="st" text-anchor="middle">*</text>
<text x="681.0" y="99.5" class="ti" style="font-size:29px">Serpine1</text>
<line x1="1026.8" y1="401.3" x2="1201.91" y2="401.3" stroke="#000" stroke-width="3.3" stroke-linecap="round" stroke-dasharray="0 10.9438"/>
<line x1="1000.2" y1="400.90" x2="1016.3" y2="400.90" stroke="#000" stroke-width="3.7"/>
<text transform="translate(989.50,410.29) scale(1,1.03)" class="tk" style="font-size:27px" text-anchor="end">0</text>
<line x1="1000.2" y1="274.25" x2="1016.3" y2="274.25" stroke="#000" stroke-width="3.7"/>
<text transform="translate(989.50,283.64) scale(1,1.03)" class="tk" style="font-size:27px" text-anchor="end">5</text>
<line x1="1000.2" y1="147.60" x2="1016.3" y2="147.60" stroke="#000" stroke-width="3.7"/>
<text transform="translate(989.50,156.99) scale(1,1.03)" class="tk" style="font-size:27px" text-anchor="end">10</text>
<path d="M1056.15,376.30 L1056.15,376.66 L1056.17,377.03 L1056.20,377.39 L1056.25,377.76 L1056.31,378.12 L1056.38,378.49 L1056.47,378.85 L1056.57,379.22 L1056.68,379.58 L1056.80,379.94 L1056.94,380.31 L1057.09,380.67 L1057.25,381.04 L1057.42,381.40 L1057.60,381.77 L1057.79,382.13 L1057.98,382.49 L1058.19,382.86 L1058.40,383.22 L1058.62,383.59 L1058.85,383.95 L1059.08,384.32 L1059.32,384.68 L1059.56,385.05 L1059.80,385.41 L1060.05,385.77 L1060.29,386.14 L1060.54,386.50 L1060.79,386.87 L1061.04,387.23 L1061.29,387.60 L1061.53,387.96 L1061.77,388.32 L1062.01,388.69 L1062.25,389.05 L1062.48,389.42 L1062.70,389.78 L1062.92,390.15 L1063.13,390.51 L1063.34,390.88 L1063.53,391.24 L1063.72,391.60 L1063.90,391.97 L1064.07,392.33 L1064.23,392.70 L1064.38,393.06 L1064.51,393.43 L1064.64,393.79 L1064.75,394.15 L1064.86,394.52 L1064.95,394.88 L1065.02,395.25 L1065.09,395.61 L1065.14,395.98 L1065.17,396.34 L1065.20,396.71 L1065.20,397.07 L1065.20,397.43 L1065.18,397.80 L1065.15,398.16 L1065.10,398.53 L1065.04,398.89 L1064.96,399.26 L1064.87,399.62 L1064.77,399.98 L1064.65,400.35 L1064.52,400.71 L1064.37,401.08 L1064.21,401.44 L1064.04,401.81 L1063.85,402.17 L1063.65,402.54 L1063.44,402.90 L1063.22,403.26 L1062.99,403.63 L1062.74,403.99 L1062.48,404.36 L1062.22,404.72 L1061.94,405.09 L1061.65,405.45 L1061.36,405.81 L1061.05,406.18 L1060.74,406.54 L1060.42,406.91 L1060.09,407.27 L1059.76,407.64 L1059.42,408.00 L1059.07,408.37 L1058.72,408.73 L1058.37,409.09 L1058.01,409.46 L1057.65,409.82 L1057.28,410.19 L1056.92,410.55 L1056.55,410.92 L1056.18,411.28 L1055.82,411.64 L1055.45,412.01 L1055.08,412.37 L1054.72,412.74 L1054.35,413.10 L1054.00,413.47 L1053.64,413.83 L1053.29,414.19 L1052.94,414.56 L1052.60,414.92 L1052.26,415.29 L1051.93,415.65 L1051.60,416.02 L1051.28,416.38 L1050.97,416.75 L1050.67,417.11 L1050.37,417.47 L1050.09,417.84 L1049.81,418.20 L1049.54,418.57 L1049.28,418.93 L1049.03,419.30 L1048.79,419.66 L1048.57,420.03 L1048.35,420.39 L1048.14,420.75 L1047.95,421.12 L1047.76,421.48 L1047.59,421.85 L1047.43,422.21 L1047.29,422.58 L1047.15,422.94 L1047.03,423.30 L1046.92,423.67 L1046.82,424.03 L1046.74,424.40 L1046.66,424.76 L1046.61,425.13 L1046.56,425.49 L1046.53,425.86 L1046.51,426.22 L1046.50,426.58 L1046.51,426.95 L1046.53,427.31 L1046.56,427.68 L1046.60,428.04 L1046.66,428.41 L1046.73,428.77 L1046.82,429.13 L1046.92,429.50 L1047.03,429.86 L1047.15,430.23 L1047.28,430.59 L1047.43,430.96 L1047.59,431.32 L1047.76,431.69 L1047.95,432.05 L1048.14,432.41 L1048.35,432.78 L1048.57,433.14 L1048.80,433.51 L1049.04,433.87 L1049.29,434.24 L1049.55,434.60 L1094.85,434.60 L1095.11,434.24 L1095.36,433.87 L1095.60,433.51 L1095.83,433.14 L1096.05,432.78 L1096.26,432.41 L1096.45,432.05 L1096.64,431.69 L1096.81,431.32 L1096.97,430.96 L1097.12,430.59 L1097.25,430.23 L1097.37,429.86 L1097.48,429.50 L1097.58,429.13 L1097.67,428.77 L1097.74,428.41 L1097.80,428.04 L1097.84,427.68 L1097.87,427.31 L1097.89,426.95 L1097.90,426.58 L1097.89,426.22 L1097.87,425.86 L1097.84,425.49 L1097.79,425.13 L1097.74,424.76 L1097.66,424.40 L1097.58,424.03 L1097.48,423.67 L1097.37,423.30 L1097.25,422.94 L1097.11,422.58 L1096.97,422.21 L1096.81,421.85 L1096.64,421.48 L1096.45,421.12 L1096.26,420.75 L1096.05,420.39 L1095.83,420.03 L1095.61,419.66 L1095.37,419.30 L1095.12,418.93 L1094.86,418.57 L1094.59,418.20 L1094.31,417.84 L1094.03,417.47 L1093.73,417.11 L1093.43,416.75 L1093.12,416.38 L1092.80,416.02 L1092.47,415.65 L1092.14,415.29 L1091.80,414.92 L1091.46,414.56 L1091.11,414.19 L1090.76,413.83 L1090.40,413.47 L1090.05,413.10 L1089.68,412.74 L1089.32,412.37 L1088.95,412.01 L1088.58,411.64 L1088.22,411.28 L1087.85,410.92 L1087.48,410.55 L1087.12,410.19 L1086.75,409.82 L1086.39,409.46 L1086.03,409.09 L1085.68,408.73 L1085.33,408.37 L1084.98,408.00 L1084.64,407.64 L1084.31,407.27 L1083.98,406.91 L1083.66,406.54 L1083.35,406.18 L1083.04,405.81 L1082.75,405.45 L1082.46,405.09 L1082.18,404.72 L1081.92,404.36 L1081.66,403.99 L1081.41,403.63 L1081.18,403.26 L1080.96,402.90 L1080.75,402.54 L1080.55,402.17 L1080.36,401.81 L1080.19,401.44 L1080.03,401.08 L1079.88,400.71 L1079.75,400.35 L1079.63,399.98 L1079.53,399.62 L1079.44,399.26 L1079.36,398.89 L1079.30,398.53 L1079.25,398.16 L1079.22,397.80 L1079.20,397.43 L1079.20,397.07 L1079.20,396.71 L1079.23,396.34 L1079.26,395.98 L1079.31,395.61 L1079.38,395.25 L1079.45,394.88 L1079.54,394.52 L1079.65,394.15 L1079.76,393.79 L1079.89,393.43 L1080.02,393.06 L1080.17,392.70 L1080.33,392.33 L1080.50,391.97 L1080.68,391.60 L1080.87,391.24 L1081.06,390.88 L1081.27,390.51 L1081.48,390.15 L1081.70,389.78 L1081.92,389.42 L1082.15,389.05 L1082.39,388.69 L1082.63,388.32 L1082.87,387.96 L1083.11,387.60 L1083.36,387.23 L1083.61,386.87 L1083.86,386.50 L1084.11,386.14 L1084.35,385.77 L1084.60,385.41 L1084.84,385.05 L1085.08,384.68 L1085.32,384.32 L1085.55,383.95 L1085.78,383.59 L1086.00,383.22 L1086.21,382.86 L1086.42,382.49 L1086.61,382.13 L1086.80,381.77 L1086.98,381.40 L1087.15,381.04 L1087.31,380.67 L1087.46,380.31 L1087.60,379.94 L1087.72,379.58 L1087.83,379.22 L1087.93,378.85 L1088.02,378.49 L1088.09,378.12 L1088.15,377.76 L1088.20,377.39 L1088.23,377.03 L1088.25,376.66 L1088.25,376.30 Z" fill="none" stroke="#000" stroke-width="3.6" stroke-linejoin="round"/>
<line x1="1050.54" y1="418.60" x2="1093.86" y2="418.60" stroke="#111" stroke-width="1.9" stroke-dasharray="4.6 4.3"/>
<path d="M1136.62,159.90 L1136.62,160.32 L1136.63,160.74 L1136.66,161.16 L1136.71,161.58 L1136.77,161.99 L1136.85,162.41 L1136.95,162.83 L1137.05,163.25 L1137.18,163.67 L1137.31,164.09 L1137.46,164.51 L1137.63,164.93 L1137.80,165.34 L1137.99,165.76 L1138.19,166.18 L1138.39,166.60 L1138.61,167.02 L1138.83,167.44 L1139.06,167.86 L1139.30,168.28 L1139.54,168.69 L1139.79,169.11 L1140.04,169.53 L1140.29,169.95 L1140.55,170.37 L1140.81,170.79 L1141.06,171.21 L1141.31,171.62 L1141.57,172.04 L1141.81,172.46 L1142.06,172.88 L1142.30,173.30 L1142.53,173.72 L1142.76,174.14 L1142.98,174.56 L1143.19,174.97 L1143.39,175.39 L1143.58,175.81 L1143.76,176.23 L1143.93,176.65 L1144.08,177.07 L1144.23,177.49 L1144.36,177.91 L1144.48,178.33 L1144.58,178.74 L1144.67,179.16 L1144.74,179.58 L1144.80,180.00 L1144.84,180.42 L1144.87,180.84 L1144.88,181.26 L1144.87,181.68 L1144.85,182.09 L1144.81,182.51 L1144.75,182.93 L1144.68,183.35 L1144.60,183.77 L1144.50,184.19 L1144.38,184.61 L1144.25,185.03 L1144.10,185.44 L1143.94,185.86 L1143.76,186.28 L1143.57,186.70 L1143.37,187.12 L1143.15,187.54 L1142.92,187.96 L1142.69,188.38 L1142.44,188.79 L1142.18,189.21 L1141.91,189.63 L1141.63,190.05 L1141.34,190.47 L1141.05,190.89 L1140.75,191.31 L1140.45,191.72 L1140.14,192.14 L1139.82,192.56 L1139.50,192.98 L1139.18,193.40 L1138.86,193.82 L1138.54,194.24 L1138.21,194.66 L1137.89,195.07 L1137.57,195.49 L1137.25,195.91 L1136.93,196.33 L1136.61,196.75 L1136.30,197.17 L1135.99,197.59 L1135.69,198.01 L1135.39,198.43 L1135.10,198.84 L1134.82,199.26 L1134.54,199.68 L1134.27,200.10 L1134.00,200.52 L1133.75,200.94 L1133.50,201.36 L1133.26,201.78 L1133.03,202.19 L1132.81,202.61 L1132.59,203.03 L1132.39,203.45 L1132.19,203.87 L1132.01,204.29 L1131.83,204.71 L1131.66,205.12 L1131.50,205.54 L1131.35,205.96 L1131.21,206.38 L1131.07,206.80 L1130.95,207.22 L1130.83,207.64 L1130.72,208.06 L1130.62,208.48 L1130.52,208.89 L1130.43,209.31 L1130.35,209.73 L1130.28,210.15 L1130.22,210.57 L1130.16,210.99 L1130.10,211.41 L1130.06,211.82 L1130.02,212.24 L1129.98,212.66 L1129.96,213.08 L1129.93,213.50 L1129.92,213.92 L1129.91,214.34 L1129.90,214.76 L1129.90,215.18 L1129.91,215.59 L1129.92,216.01 L1129.93,216.43 L1129.96,216.85 L1129.99,217.27 L1130.02,217.69 L1130.06,218.11 L1130.11,218.53 L1130.16,218.94 L1130.22,219.36 L1130.29,219.78 L1130.36,220.20 L1130.45,220.62 L1130.53,221.04 L1130.63,221.46 L1130.73,221.88 L1130.85,222.29 L1130.97,222.71 L1131.10,223.13 L1131.24,223.55 L1131.38,223.97 L1131.54,224.39 L1131.71,224.81 L1131.88,225.23 L1132.07,225.64 L1132.26,226.06 L1132.47,226.48 L1132.68,226.90 L1178.52,226.90 L1178.73,226.48 L1178.94,226.06 L1179.13,225.64 L1179.32,225.23 L1179.49,224.81 L1179.66,224.39 L1179.82,223.97 L1179.96,223.55 L1180.10,223.13 L1180.23,222.71 L1180.35,222.29 L1180.47,221.88 L1180.57,221.46 L1180.67,221.04 L1180.75,220.62 L1180.84,220.20 L1180.91,219.78 L1180.98,219.36 L1181.04,218.94 L1181.09,218.53 L1181.14,218.11 L1181.18,217.69 L1181.21,217.27 L1181.24,216.85 L1181.27,216.43 L1181.28,216.01 L1181.29,215.59 L1181.30,215.18 L1181.30,214.76 L1181.29,214.34 L1181.28,213.92 L1181.27,213.50 L1181.24,213.08 L1181.22,212.66 L1181.18,212.24 L1181.14,211.82 L1181.10,211.41 L1181.04,210.99 L1180.98,210.57 L1180.92,210.15 L1180.85,209.73 L1180.77,209.31 L1180.68,208.89 L1180.58,208.48 L1180.48,208.06 L1180.37,207.64 L1180.25,207.22 L1180.13,206.80 L1179.99,206.38 L1179.85,205.96 L1179.70,205.54 L1179.54,205.12 L1179.37,204.71 L1179.19,204.29 L1179.01,203.87 L1178.81,203.45 L1178.61,203.03 L1178.39,202.61 L1178.17,202.19 L1177.94,201.78 L1177.70,201.36 L1177.45,200.94 L1177.20,200.52 L1176.93,200.10 L1176.66,199.68 L1176.38,199.26 L1176.10,198.84 L1175.81,198.43 L1175.51,198.01 L1175.21,197.59 L1174.90,197.17 L1174.59,196.75 L1174.27,196.33 L1173.95,195.91 L1173.63,195.49 L1173.31,195.07 L1172.99,194.66 L1172.66,194.24 L1172.34,193.82 L1172.02,193.40 L1171.70,192.98 L1171.38,192.56 L1171.06,192.14 L1170.75,191.72 L1170.45,191.31 L1170.15,190.89 L1169.86,190.47 L1169.57,190.05 L1169.29,189.63 L1169.02,189.21 L1168.76,188.79 L1168.51,188.38 L1168.28,187.96 L1168.05,187.54 L1167.83,187.12 L1167.63,186.70 L1167.44,186.28 L1167.26,185.86 L1167.10,185.44 L1166.95,185.03 L1166.82,184.61 L1166.70,184.19 L1166.60,183.77 L1166.52,183.35 L1166.45,182.93 L1166.39,182.51 L1166.35,182.09 L1166.33,181.68 L1166.32,181.26 L1166.33,180.84 L1166.36,180.42 L1166.40,180.00 L1166.46,179.58 L1166.53,179.16 L1166.62,178.74 L1166.72,178.33 L1166.84,177.91 L1166.97,177.49 L1167.12,177.07 L1167.27,176.65 L1167.44,176.23 L1167.62,175.81 L1167.81,175.39 L1168.01,174.97 L1168.22,174.56 L1168.44,174.14 L1168.67,173.72 L1168.90,173.30 L1169.14,172.88 L1169.39,172.46 L1169.63,172.04 L1169.89,171.62 L1170.14,171.21 L1170.39,170.79 L1170.65,170.37 L1170.91,169.95 L1171.16,169.53 L1171.41,169.11 L1171.66,168.69 L1171.90,168.28 L1172.14,167.86 L1172.37,167.44 L1172.59,167.02 L1172.81,166.60 L1173.01,166.18 L1173.21,165.76 L1173.40,165.34 L1173.57,164.93 L1173.74,164.51 L1173.89,164.09 L1174.02,163.67 L1174.15,163.25 L1174.25,162.83 L1174.35,162.41 L1174.43,161.99 L1174.49,161.58 L1174.54,161.16 L1174.57,160.74 L1174.58,160.32 L1174.58,159.90 Z" fill="none" stroke="#000" stroke-width="3.6" stroke-linejoin="round"/>
<line x1="1133.59" y1="203.10" x2="1177.61" y2="203.10" stroke="#111" stroke-width="1.9" stroke-dasharray="4.6 4.3"/>
<circle cx="1071.9" cy="376.3" r="7.9" fill="#0000bd"/>
<circle cx="1058.0" cy="418.6" r="7.9" fill="#0000bd"/>
<circle cx="1085.6" cy="434.6" r="7.9" fill="#0000bd"/>
<circle cx="1155.5" cy="159.9" r="7.1" fill="none" stroke="#ff0000" stroke-width="4.1"/>
<circle cx="1155.5" cy="203.1" r="7.1" fill="none" stroke="#ff0000" stroke-width="4.1"/>
<circle cx="1155.5" cy="226.9" r="7.1" fill="none" stroke="#ff0000" stroke-width="4.1"/>
<path d="M1016.3,94.80 V452.90 M1212.1,94.80 V452.90" stroke="#000" stroke-width="2.8" fill="none"/>
<path d="M1014.90,96.8 H1213.50 M1014.90,450.9 H1213.50" stroke="#000" stroke-width="4.0" fill="none"/>
<line x1="1068.2" y1="136.4" x2="1153.4" y2="136.4" stroke="#1a1a1a" stroke-width="1.4"/>
<text x="1106.60" y="140.20" class="st" text-anchor="middle">*</text>
<text x="1120.40" y="140.20" class="st" text-anchor="middle">*</text>
<text transform="translate(907.50,349.90) rotate(-90)" class="yl1" style="font-size:28.5px" textLength="152.90" lengthAdjust="spacingAndGlyphs">Fold change</text>
<text transform="translate(937.00,378.30) rotate(-90)" class="yl2" style="font-size:26.0px" textLength="210.00" lengthAdjust="spacingAndGlyphs">HIF-1- binding site</text>
<line x1="1368.7" y1="392.3" x2="1543.51" y2="392.3" stroke="#000" stroke-width="3.3" stroke-linecap="round" stroke-dasharray="0 10.9250"/>
<line x1="1342.9" y1="392.20" x2="1358.6" y2="392.20" stroke="#000" stroke-width="3.7"/>
<text transform="translate(1332.20,401.59) scale(1,1.03)" class="tk" style="font-size:27px" text-anchor="end">0</text>
<line x1="1342.9" y1="273.90" x2="1358.6" y2="273.90" stroke="#000" stroke-width="3.7"/>
<text transform="translate(1332.20,283.29) scale(1,1.03)" class="tk" style="font-size:27px" text-anchor="end">2</text>
<line x1="1342.9" y1="155.60" x2="1358.6" y2="155.60" stroke="#000" stroke-width="3.7"/>
<text transform="translate(1332.20,164.99) scale(1,1.03)" class="tk" style="font-size:27px" text-anchor="end">4</text>
<path d="M1400.23,377.20 L1400.24,377.36 L1400.25,377.52 L1400.28,377.67 L1400.32,377.83 L1400.37,377.99 L1400.43,378.15 L1400.50,378.31 L1400.58,378.46 L1400.67,378.62 L1400.77,378.78 L1400.88,378.94 L1401.01,379.10 L1401.14,379.26 L1401.28,379.41 L1401.42,379.57 L1401.58,379.73 L1401.74,379.89 L1401.91,380.05 L1402.09,380.20 L1402.27,380.36 L1402.46,380.52 L1402.66,380.68 L1402.86,380.84 L1403.06,381.00 L1403.27,381.15 L1403.48,381.31 L1403.70,381.47 L1403.92,381.63 L1404.14,381.79 L1404.36,381.94 L1404.58,382.10 L1404.80,382.26 L1405.03,382.42 L1405.25,382.58 L1405.47,382.73 L1405.69,382.89 L1405.91,383.05 L1406.12,383.21 L1406.34,383.37 L1406.54,383.52 L1406.75,383.68 L1406.95,383.84 L1407.15,384.00 L1407.34,384.16 L1407.53,384.32 L1407.71,384.47 L1407.88,384.63 L1408.05,384.79 L1408.21,384.95 L1408.36,385.11 L1408.51,385.26 L1408.65,385.42 L1408.78,385.58 L1408.90,385.74 L1409.02,385.90 L1409.12,386.06 L1409.21,386.21 L1409.30,386.37 L1409.38,386.53 L1409.44,386.69 L1409.50,386.85 L1409.54,387.00 L1409.58,387.16 L1409.60,387.32 L1409.62,387.48 L1409.62,387.64 L1409.61,387.79 L1409.59,387.95 L1409.56,388.11 L1409.52,388.27 L1409.47,388.43 L1409.40,388.58 L1409.33,388.74 L1409.24,388.90 L1409.14,389.06 L1409.03,389.22 L1408.90,389.38 L1408.77,389.53 L1408.62,389.69 L1408.46,389.85 L1408.29,390.01 L1408.11,390.17 L1407.91,390.32 L1407.71,390.48 L1407.49,390.64 L1407.26,390.80 L1407.02,390.96 L1406.77,391.12 L1406.51,391.27 L1406.23,391.43 L1405.95,391.59 L1405.65,391.75 L1405.35,391.91 L1405.04,392.06 L1404.71,392.22 L1404.38,392.38 L1404.04,392.54 L1403.69,392.70 L1403.33,392.85 L1402.96,393.01 L1402.59,393.17 L1402.21,393.33 L1401.82,393.49 L1401.43,393.64 L1401.03,393.80 L1400.63,393.96 L1400.22,394.12 L1399.81,394.28 L1399.39,394.44 L1398.98,394.59 L1398.56,394.75 L1398.14,394.91 L1397.72,395.07 L1397.30,395.23 L1396.88,395.38 L1396.46,395.54 L1396.05,395.70 L1395.64,395.86 L1395.23,396.02 L1394.82,396.18 L1394.43,396.33 L1394.03,396.49 L1393.65,396.65 L1393.27,396.81 L1392.90,396.97 L1392.54,397.12 L1392.19,397.28 L1391.85,397.44 L1391.52,397.60 L1391.20,397.76 L1390.89,397.91 L1390.60,398.07 L1390.32,398.23 L1390.06,398.39 L1389.81,398.55 L1389.57,398.70 L1389.35,398.86 L1389.15,399.02 L1388.96,399.18 L1388.80,399.34 L1388.65,399.50 L1388.51,399.65 L1388.40,399.81 L1388.30,399.97 L1388.22,400.13 L1388.16,400.29 L1388.12,400.44 L1388.10,400.60 L1388.10,400.76 L1388.12,400.92 L1388.15,401.08 L1388.21,401.24 L1388.28,401.39 L1388.37,401.55 L1388.49,401.71 L1388.62,401.87 L1388.76,402.03 L1388.93,402.18 L1389.11,402.34 L1389.31,402.50 L1438.29,402.50 L1438.49,402.34 L1438.67,402.18 L1438.84,402.03 L1438.98,401.87 L1439.11,401.71 L1439.23,401.55 L1439.32,401.39 L1439.39,401.24 L1439.45,401.08 L1439.48,400.92 L1439.50,400.76 L1439.50,400.60 L1439.48,400.44 L1439.44,400.29 L1439.38,400.13 L1439.30,399.97 L1439.20,399.81 L1439.09,399.65 L1438.95,399.50 L1438.80,399.34 L1438.64,399.18 L1438.45,399.02 L1438.25,398.86 L1438.03,398.70 L1437.79,398.55 L1437.54,398.39 L1437.28,398.23 L1437.00,398.07 L1436.71,397.91 L1436.40,397.76 L1436.08,397.60 L1435.75,397.44 L1435.41,397.28 L1435.06,397.12 L1434.70,396.97 L1434.33,396.81 L1433.95,396.65 L1433.57,396.49 L1433.17,396.33 L1432.78,396.18 L1432.37,396.02 L1431.96,395.86 L1431.55,395.70 L1431.14,395.54 L1430.72,395.38 L1430.30,395.23 L1429.88,395.07 L1429.46,394.91 L1429.04,394.75 L1428.62,394.59 L1428.21,394.44 L1427.79,394.28 L1427.38,394.12 L1426.97,393.96 L1426.57,393.80 L1426.17,393.64 L1425.78,393.49 L1425.39,393.33 L1425.01,393.17 L1424.64,393.01 L1424.27,392.85 L1423.91,392.70 L1423.56,392.54 L1423.22,392.38 L1422.89,392.22 L1422.56,392.06 L1422.25,391.91 L1421.95,391.75 L1421.65,391.59 L1421.37,391.43 L1421.09,391.27 L1420.83,391.12 L1420.58,390.96 L1420.34,390.80 L1420.11,390.64 L1419.89,390.48 L1419.69,390.32 L1419.49,390.17 L1419.31,390.01 L1419.14,389.85 L1418.98,389.69 L1418.83,389.53 L1418.70,389.38 L1418.57,389.22 L1418.46,389.06 L1418.36,388.90 L1418.27,388.74 L1418.20,388.58 L1418.13,388.43 L1418.08,388.27 L1418.04,388.11 L1418.01,387.95 L1417.99,387.79 L1417.98,387.64 L1417.98,387.48 L1418.00,387.32 L1418.02,387.16 L1418.06,387.00 L1418.10,386.85 L1418.16,386.69 L1418.22,386.53 L1418.30,386.37 L1418.39,386.21 L1418.48,386.06 L1418.58,385.90 L1418.70,385.74 L1418.82,385.58 L1418.95,385.42 L1419.09,385.26 L1419.24,385.11 L1419.39,384.95 L1419.55,384.79 L1419.72,384.63 L1419.89,384.47 L1420.07,384.32 L1420.26,384.16 L1420.45,384.00 L1420.65,383.84 L1420.85,383.68 L1421.06,383.52 L1421.26,383.37 L1421.48,383.21 L1421.69,383.05 L1421.91,382.89 L1422.13,382.73 L1422.35,382.58 L1422.57,382.42 L1422.80,382.26 L1423.02,382.10 L1423.24,381.94 L1423.46,381.79 L1423.68,381.63 L1423.90,381.47 L1424.12,381.31 L1424.33,381.15 L1424.54,381.00 L1424.74,380.84 L1424.94,380.68 L1425.14,380.52 L1425.33,380.36 L1425.51,380.20 L1425.69,380.05 L1425.86,379.89 L1426.02,379.73 L1426.18,379.57 L1426.32,379.41 L1426.46,379.26 L1426.59,379.10 L1426.72,378.94 L1426.83,378.78 L1426.93,378.62 L1427.02,378.46 L1427.10,378.31 L1427.17,378.15 L1427.23,377.99 L1427.28,377.83 L1427.32,377.67 L1427.35,377.52 L1427.36,377.36 L1427.37,377.20 Z" fill="none" stroke="#000" stroke-width="3.6" stroke-linejoin="round"/>
<line x1="1390.35" y1="398.90" x2="1437.25" y2="398.90" stroke="#111" stroke-width="1.9" stroke-dasharray="4.6 4.3"/>
<path d="M1483.13,385.60 L1483.14,385.68 L1483.15,385.77 L1483.17,385.85 L1483.21,385.93 L1483.25,386.02 L1483.30,386.10 L1483.36,386.18 L1483.43,386.27 L1483.51,386.35 L1483.60,386.43 L1483.70,386.51 L1483.80,386.60 L1483.91,386.68 L1484.03,386.76 L1484.16,386.85 L1484.30,386.93 L1484.44,387.01 L1484.59,387.10 L1484.74,387.18 L1484.90,387.26 L1485.07,387.35 L1485.24,387.43 L1485.42,387.51 L1485.60,387.60 L1485.79,387.68 L1485.97,387.76 L1486.17,387.84 L1486.36,387.93 L1486.56,388.01 L1486.76,388.09 L1486.96,388.18 L1487.17,388.26 L1487.37,388.34 L1487.57,388.43 L1487.78,388.51 L1487.98,388.59 L1488.19,388.68 L1488.39,388.76 L1488.59,388.84 L1488.79,388.93 L1488.99,389.01 L1489.19,389.09 L1489.38,389.17 L1489.57,389.26 L1489.76,389.34 L1489.94,389.42 L1490.12,389.51 L1490.30,389.59 L1490.47,389.67 L1490.63,389.76 L1490.79,389.84 L1490.95,389.92 L1491.09,390.01 L1491.24,390.09 L1491.37,390.17 L1491.50,390.25 L1491.63,390.34 L1491.75,390.42 L1491.86,390.50 L1491.96,390.59 L1492.05,390.67 L1492.14,390.75 L1492.22,390.84 L1492.29,390.92 L1492.35,391.00 L1492.41,391.09 L1492.45,391.17 L1492.49,391.25 L1492.52,391.34 L1492.54,391.42 L1492.55,391.50 L1492.55,391.58 L1492.54,391.67 L1492.53,391.75 L1492.50,391.83 L1492.46,391.92 L1492.41,392.00 L1492.36,392.08 L1492.29,392.17 L1492.21,392.25 L1492.12,392.33 L1492.02,392.42 L1491.92,392.50 L1491.80,392.58 L1491.67,392.67 L1491.53,392.75 L1491.38,392.83 L1491.21,392.92 L1491.04,393.00 L1490.86,393.08 L1490.66,393.16 L1490.46,393.25 L1490.24,393.33 L1490.02,393.41 L1489.78,393.50 L1489.53,393.58 L1489.28,393.66 L1489.01,393.75 L1488.73,393.83 L1488.44,393.91 L1488.15,394.00 L1487.84,394.08 L1487.52,394.16 L1487.20,394.25 L1486.86,394.33 L1486.52,394.41 L1486.17,394.49 L1485.81,394.58 L1485.44,394.66 L1485.07,394.74 L1484.69,394.83 L1484.30,394.91 L1483.91,394.99 L1483.51,395.08 L1483.11,395.16 L1482.70,395.24 L1482.29,395.33 L1481.88,395.41 L1481.46,395.49 L1481.04,395.57 L1480.62,395.66 L1480.20,395.74 L1479.78,395.82 L1479.36,395.91 L1478.94,395.99 L1478.52,396.07 L1478.10,396.16 L1477.69,396.24 L1477.28,396.32 L1476.88,396.41 L1476.48,396.49 L1476.09,396.57 L1475.71,396.66 L1475.33,396.74 L1474.97,396.82 L1474.61,396.90 L1474.26,396.99 L1473.92,397.07 L1473.60,397.15 L1473.28,397.24 L1472.98,397.32 L1472.69,397.40 L1472.42,397.49 L1472.16,397.57 L1471.91,397.65 L1471.69,397.74 L1471.47,397.82 L1471.28,397.90 L1471.10,397.99 L1470.93,398.07 L1470.79,398.15 L1470.66,398.23 L1470.56,398.32 L1470.47,398.40 L1470.40,398.48 L1470.35,398.57 L1470.31,398.65 L1470.30,398.73 L1470.31,398.82 L1470.33,398.90 L1521.67,398.90 L1521.69,398.82 L1521.70,398.73 L1521.69,398.65 L1521.65,398.57 L1521.60,398.48 L1521.53,398.40 L1521.44,398.32 L1521.34,398.23 L1521.21,398.15 L1521.07,398.07 L1520.90,397.99 L1520.72,397.90 L1520.53,397.82 L1520.31,397.74 L1520.09,397.65 L1519.84,397.57 L1519.58,397.49 L1519.31,397.40 L1519.02,397.32 L1518.72,397.24 L1518.40,397.15 L1518.08,397.07 L1517.74,396.99 L1517.39,396.90 L1517.03,396.82 L1516.67,396.74 L1516.29,396.66 L1515.91,396.57 L1515.52,396.49 L1515.12,396.41 L1514.72,396.32 L1514.31,396.24 L1513.90,396.16 L1513.48,396.07 L1513.06,395.99 L1512.64,395.91 L1512.22,395.82 L1511.80,395.74 L1511.38,395.66 L1510.96,395.57 L1510.54,395.49 L1510.12,395.41 L1509.71,395.33 L1509.30,395.24 L1508.89,395.16 L1508.49,395.08 L1508.09,394.99 L1507.70,394.91 L1507.31,394.83 L1506.93,394.74 L1506.56,394.66 L1506.19,394.58 L1505.83,394.49 L1505.48,394.41 L1505.14,394.33 L1504.80,394.25 L1504.48,394.16 L1504.16,394.08 L1503.85,394.00 L1503.56,393.91 L1503.27,393.83 L1502.99,393.75 L1502.72,393.66 L1502.47,393.58 L1502.22,393.50 L1501.98,393.41 L1501.76,393.33 L1501.54,393.25 L1501.34,393.16 L1501.14,393.08 L1500.96,393.00 L1500.79,392.92 L1500.62,392.83 L1500.47,392.75 L1500.33,392.67 L1500.20,392.58 L1500.08,392.50 L1499.98,392.42 L1499.88,392.33 L1499.79,392.25 L1499.71,392.17 L1499.64,392.08 L1499.59,392.00 L1499.54,391.92 L1499.50,391.83 L1499.47,391.75 L1499.46,391.67 L1499.45,391.58 L1499.45,391.50 L1499.46,391.42 L1499.48,391.34 L1499.51,391.25 L1499.55,391.17 L1499.59,391.09 L1499.65,391.00 L1499.71,390.92 L1499.78,390.84 L1499.86,390.75 L1499.95,390.67 L1500.04,390.59 L1500.14,390.50 L1500.25,390.42 L1500.37,390.34 L1500.50,390.25 L1500.63,390.17 L1500.76,390.09 L1500.91,390.01 L1501.05,389.92 L1501.21,389.84 L1501.37,389.76 L1501.53,389.67 L1501.70,389.59 L1501.88,389.51 L1502.06,389.42 L1502.24,389.34 L1502.43,389.26 L1502.62,389.17 L1502.81,389.09 L1503.01,389.01 L1503.21,388.93 L1503.41,388.84 L1503.61,388.76 L1503.81,388.68 L1504.02,388.59 L1504.22,388.51 L1504.43,388.43 L1504.63,388.34 L1504.83,388.26 L1505.04,388.18 L1505.24,388.09 L1505.44,388.01 L1505.64,387.93 L1505.83,387.84 L1506.03,387.76 L1506.21,387.68 L1506.40,387.60 L1506.58,387.51 L1506.76,387.43 L1506.93,387.35 L1507.10,387.26 L1507.26,387.18 L1507.41,387.10 L1507.56,387.01 L1507.70,386.93 L1507.84,386.85 L1507.97,386.76 L1508.09,386.68 L1508.20,386.60 L1508.30,386.51 L1508.40,386.43 L1508.49,386.35 L1508.57,386.27 L1508.64,386.18 L1508.70,386.10 L1508.75,386.02 L1508.79,385.93 L1508.83,385.85 L1508.85,385.77 L1508.86,385.68 L1508.87,385.60 Z" fill="none" stroke="#000" stroke-width="3.6" stroke-linejoin="round"/>
<line x1="1471.35" y1="398.60" x2="1520.65" y2="398.60" stroke="#111" stroke-width="1.9" stroke-dasharray="4.6 4.3"/>
<circle cx="1413.8" cy="377.2" r="7.9" fill="#0000bd"/>
<circle cx="1399.7" cy="398.9" r="7.9" fill="#0000bd"/>
<circle cx="1427.6" cy="402.5" r="7.9" fill="#0000bd"/>
<circle cx="1478.5" cy="385.6" r="7.1" fill="none" stroke="#ff0000" stroke-width="4.1"/>
<circle cx="1497.0" cy="398.6" r="7.1" fill="none" stroke="#ff0000" stroke-width="4.1"/>
<circle cx="1515.8" cy="398.9" r="7.1" fill="none" stroke="#ff0000" stroke-width="4.1"/>
<path d="M1358.6,94.80 V453.00 M1553.6,94.80 V453.00" stroke="#000" stroke-width="2.8" fill="none"/>
<path d="M1357.20,96.8 H1555.00 M1357.20,451 H1555.00" stroke="#000" stroke-width="4.0" fill="none"/>
<text transform="translate(1263.30,349.40) rotate(-90)" class="yl1" style="font-size:28.5px" textLength="152.80" lengthAdjust="spacingAndGlyphs">Fold change</text>
<text transform="translate(1293.90,401.40) rotate(-90)" class="yl2" style="font-size:26.0px" textLength="256.40" lengthAdjust="spacingAndGlyphs">non-HIF-1-binding site</text>
<line x1="149.7" y1="857.7" x2="325.41" y2="857.7" stroke="#000" stroke-width="3.3" stroke-linecap="round" stroke-dasharray="0 10.9812"/>
<line x1="123" y1="857.80" x2="138.8" y2="857.80" stroke="#000" stroke-width="3.5"/>
<text transform="translate(113.30,867.37) scale(1,1.03)" class="tk" style="font-size:27.5px" text-anchor="end">0</text>
<line x1="123" y1="758.20" x2="138.8" y2="758.20" stroke="#000" stroke-width="3.5"/>
<text transform="translate(113.30,767.77) scale(1,1.03)" class="tk" style="font-size:27.5px" text-anchor="end">5</text>
<line x1="123" y1="658.60" x2="138.8" y2="658.60" stroke="#000" stroke-width="3.5"/>
<text transform="translate(113.30,668.17) scale(1,1.03)" class="tk" style="font-size:27.5px" text-anchor="end">10</text>
<path d="M175.40,833.60 L175.40,834.03 L175.41,834.47 L175.44,834.90 L175.49,835.33 L175.55,835.77 L175.63,836.20 L175.73,836.63 L175.84,837.07 L175.96,837.50 L176.10,837.93 L176.26,838.36 L176.42,838.80 L176.60,839.23 L176.79,839.66 L176.99,840.10 L177.20,840.53 L177.42,840.96 L177.65,841.40 L177.89,841.83 L178.13,842.26 L178.38,842.70 L178.63,843.13 L178.88,843.56 L179.14,844.00 L179.40,844.43 L179.66,844.86 L179.92,845.29 L180.18,845.73 L180.44,846.16 L180.69,846.59 L180.94,847.03 L181.18,847.46 L181.42,847.89 L181.65,848.33 L181.87,848.76 L182.09,849.19 L182.29,849.63 L182.49,850.06 L182.67,850.49 L182.84,850.92 L183.00,851.36 L183.14,851.79 L183.28,852.22 L183.39,852.66 L183.50,853.09 L183.59,853.52 L183.66,853.96 L183.72,854.39 L183.76,854.82 L183.78,855.26 L183.79,855.69 L183.78,856.12 L183.76,856.56 L183.72,856.99 L183.66,857.42 L183.59,857.86 L183.50,858.29 L183.39,858.72 L183.27,859.15 L183.14,859.59 L182.98,860.02 L182.82,860.45 L182.64,860.89 L182.44,861.32 L182.23,861.75 L182.01,862.19 L181.78,862.62 L181.53,863.05 L181.28,863.49 L181.01,863.92 L180.74,864.35 L180.45,864.78 L180.16,865.22 L179.86,865.65 L179.56,866.08 L179.25,866.52 L178.93,866.95 L178.61,867.38 L178.29,867.82 L177.96,868.25 L177.63,868.68 L177.30,869.12 L176.97,869.55 L176.64,869.98 L176.32,870.42 L175.99,870.85 L175.67,871.28 L175.35,871.72 L175.03,872.15 L174.72,872.58 L174.41,873.01 L174.11,873.45 L173.82,873.88 L173.53,874.31 L173.25,874.75 L172.97,875.18 L172.71,875.61 L172.45,876.05 L172.20,876.48 L171.96,876.91 L171.72,877.35 L171.50,877.78 L171.29,878.21 L171.08,878.64 L170.88,879.08 L170.70,879.51 L170.52,879.94 L170.35,880.38 L170.19,880.81 L170.04,881.24 L169.89,881.68 L169.76,882.11 L169.63,882.54 L169.52,882.98 L169.41,883.41 L169.31,883.84 L169.21,884.28 L169.13,884.71 L169.05,885.14 L168.97,885.58 L168.91,886.01 L168.85,886.44 L168.80,886.87 L168.75,887.31 L168.71,887.74 L168.68,888.17 L168.65,888.61 L168.63,889.04 L168.62,889.47 L168.60,889.91 L168.60,890.34 L168.60,890.77 L168.61,891.21 L168.62,891.64 L168.64,892.07 L168.66,892.50 L168.69,892.94 L168.72,893.37 L168.77,893.80 L168.81,894.24 L168.87,894.67 L168.93,895.10 L169.00,895.54 L169.07,895.97 L169.15,896.40 L169.24,896.84 L169.34,897.27 L169.45,897.70 L169.56,898.14 L169.68,898.57 L169.81,899.00 L169.95,899.43 L170.10,899.87 L170.26,900.30 L170.43,900.73 L170.61,901.17 L170.79,901.60 L170.99,902.03 L171.20,902.47 L171.42,902.90 L218.18,902.90 L218.40,902.47 L218.61,902.03 L218.81,901.60 L218.99,901.17 L219.17,900.73 L219.34,900.30 L219.50,899.87 L219.65,899.43 L219.79,899.00 L219.92,898.57 L220.04,898.14 L220.15,897.70 L220.26,897.27 L220.36,896.84 L220.45,896.40 L220.53,895.97 L220.60,895.54 L220.67,895.10 L220.73,894.67 L220.79,894.24 L220.83,893.80 L220.88,893.37 L220.91,892.94 L220.94,892.50 L220.96,892.07 L220.98,891.64 L220.99,891.21 L221.00,890.77 L221.00,890.34 L221.00,889.91 L220.98,889.47 L220.97,889.04 L220.95,888.61 L220.92,888.17 L220.89,887.74 L220.85,887.31 L220.80,886.87 L220.75,886.44 L220.69,886.01 L220.63,885.58 L220.55,885.14 L220.47,884.71 L220.39,884.28 L220.29,883.84 L220.19,883.41 L220.08,882.98 L219.97,882.54 L219.84,882.11 L219.71,881.68 L219.56,881.24 L219.41,880.81 L219.25,880.38 L219.08,879.94 L218.90,879.51 L218.72,879.08 L218.52,878.64 L218.31,878.21 L218.10,877.78 L217.88,877.35 L217.64,876.91 L217.40,876.48 L217.15,876.05 L216.89,875.61 L216.63,875.18 L216.35,874.75 L216.07,874.31 L215.78,873.88 L215.49,873.45 L215.19,873.01 L214.88,872.58 L214.57,872.15 L214.25,871.72 L213.93,871.28 L213.61,870.85 L213.28,870.42 L212.96,869.98 L212.63,869.55 L212.30,869.12 L211.97,868.68 L211.64,868.25 L211.31,867.82 L210.99,867.38 L210.67,866.95 L210.35,866.52 L210.04,866.08 L209.74,865.65 L209.44,865.22 L209.15,864.78 L208.86,864.35 L208.59,863.92 L208.32,863.49 L208.07,863.05 L207.82,862.62 L207.59,862.19 L207.37,861.75 L207.16,861.32 L206.96,860.89 L206.78,860.45 L206.62,860.02 L206.46,859.59 L206.33,859.15 L206.21,858.72 L206.10,858.29 L206.01,857.86 L205.94,857.42 L205.88,856.99 L205.84,856.56 L205.82,856.12 L205.81,855.69 L205.82,855.26 L205.84,854.82 L205.88,854.39 L205.94,853.96 L206.01,853.52 L206.10,853.09 L206.21,852.66 L206.32,852.22 L206.46,851.79 L206.60,851.36 L206.76,850.92 L206.93,850.49 L207.11,850.06 L207.31,849.63 L207.51,849.19 L207.73,848.76 L207.95,848.33 L208.18,847.89 L208.42,847.46 L208.66,847.03 L208.91,846.59 L209.16,846.16 L209.42,845.73 L209.68,845.29 L209.94,844.86 L210.20,844.43 L210.46,844.00 L210.72,843.56 L210.97,843.13 L211.22,842.70 L211.47,842.26 L211.71,841.83 L211.95,841.40 L212.18,840.96 L212.40,840.53 L212.61,840.10 L212.81,839.66 L213.00,839.23 L213.18,838.80 L213.34,838.36 L213.50,837.93 L213.64,837.50 L213.76,837.07 L213.87,836.63 L213.97,836.20 L214.05,835.77 L214.11,835.33 L214.16,834.90 L214.19,834.47 L214.20,834.03 L214.20,833.60 Z" fill="none" stroke="#000" stroke-width="3.5" stroke-linejoin="round"/>
<line x1="172.29" y1="878.20" x2="217.31" y2="878.20" stroke="#111" stroke-width="1.9" stroke-dasharray="4.6 4.3"/>
<path d="M260.46,637.00 L260.46,637.53 L260.47,638.06 L260.51,638.59 L260.55,639.12 L260.62,639.64 L260.70,640.17 L260.79,640.70 L260.90,641.23 L261.02,641.76 L261.16,642.29 L261.31,642.82 L261.48,643.35 L261.65,643.87 L261.84,644.40 L262.04,644.93 L262.24,645.46 L262.46,645.99 L262.68,646.52 L262.92,647.05 L263.16,647.58 L263.40,648.10 L263.65,648.63 L263.90,649.16 L264.16,649.69 L264.42,650.22 L264.68,650.75 L264.94,651.28 L265.20,651.80 L265.46,652.33 L265.72,652.86 L265.97,653.39 L266.22,653.92 L266.46,654.45 L266.70,654.98 L266.93,655.51 L267.15,656.03 L267.37,656.56 L267.57,657.09 L267.77,657.62 L267.95,658.15 L268.13,658.68 L268.29,659.21 L268.44,659.74 L268.58,660.26 L268.70,660.79 L268.81,661.32 L268.90,661.85 L268.99,662.38 L269.05,662.91 L269.10,663.44 L269.14,663.97 L269.16,664.50 L269.16,665.02 L269.15,665.55 L269.12,666.08 L269.07,666.61 L269.01,667.14 L268.93,667.67 L268.84,668.20 L268.73,668.73 L268.61,669.25 L268.47,669.78 L268.32,670.31 L268.15,670.84 L267.97,671.37 L267.77,671.90 L267.57,672.43 L267.34,672.96 L267.11,673.48 L266.86,674.01 L266.61,674.54 L266.34,675.07 L266.06,675.60 L265.78,676.13 L265.48,676.66 L265.18,677.19 L264.87,677.71 L264.56,678.24 L264.23,678.77 L263.91,679.30 L263.58,679.83 L263.24,680.36 L262.90,680.89 L262.57,681.41 L262.22,681.94 L261.88,682.47 L261.54,683.00 L261.20,683.53 L260.86,684.06 L260.52,684.59 L260.19,685.12 L259.85,685.64 L259.52,686.17 L259.20,686.70 L258.88,687.23 L258.57,687.76 L258.26,688.29 L257.96,688.82 L257.66,689.35 L257.37,689.88 L257.09,690.40 L256.82,690.93 L256.55,691.46 L256.30,691.99 L256.05,692.52 L255.81,693.05 L255.58,693.58 L255.36,694.11 L255.14,694.63 L254.94,695.16 L254.74,695.69 L254.56,696.22 L254.38,696.75 L254.22,697.28 L254.06,697.81 L253.91,698.34 L253.77,698.86 L253.64,699.39 L253.52,699.92 L253.40,700.45 L253.30,700.98 L253.20,701.51 L253.12,702.04 L253.04,702.57 L252.97,703.09 L252.91,703.62 L252.85,704.15 L252.81,704.68 L252.77,705.21 L252.74,705.74 L252.72,706.27 L252.71,706.80 L252.70,707.32 L252.70,707.85 L252.71,708.38 L252.73,708.91 L252.76,709.44 L252.79,709.97 L252.84,710.50 L252.89,711.02 L252.95,711.55 L253.01,712.08 L253.09,712.61 L253.18,713.14 L253.27,713.67 L253.37,714.20 L253.48,714.73 L253.60,715.25 L253.73,715.78 L253.87,716.31 L254.02,716.84 L254.18,717.37 L254.34,717.90 L254.52,718.43 L254.71,718.96 L254.90,719.49 L255.11,720.01 L255.33,720.54 L255.55,721.07 L255.79,721.60 L302.01,721.60 L302.25,721.07 L302.47,720.54 L302.69,720.01 L302.90,719.49 L303.09,718.96 L303.28,718.43 L303.46,717.90 L303.62,717.37 L303.78,716.84 L303.93,716.31 L304.07,715.78 L304.20,715.25 L304.32,714.73 L304.43,714.20 L304.53,713.67 L304.62,713.14 L304.71,712.61 L304.79,712.08 L304.85,711.55 L304.91,711.02 L304.96,710.50 L305.01,709.97 L305.04,709.44 L305.07,708.91 L305.09,708.38 L305.10,707.85 L305.10,707.32 L305.09,706.80 L305.08,706.27 L305.06,705.74 L305.03,705.21 L304.99,704.68 L304.95,704.15 L304.89,703.62 L304.83,703.09 L304.76,702.57 L304.68,702.04 L304.60,701.51 L304.50,700.98 L304.40,700.45 L304.28,699.92 L304.16,699.39 L304.03,698.86 L303.89,698.34 L303.74,697.81 L303.58,697.28 L303.42,696.75 L303.24,696.22 L303.06,695.69 L302.86,695.16 L302.66,694.63 L302.44,694.11 L302.22,693.58 L301.99,693.05 L301.75,692.52 L301.50,691.99 L301.25,691.46 L300.98,690.93 L300.71,690.40 L300.43,689.88 L300.14,689.35 L299.84,688.82 L299.54,688.29 L299.23,687.76 L298.92,687.23 L298.60,686.70 L298.28,686.17 L297.95,685.64 L297.61,685.12 L297.28,684.59 L296.94,684.06 L296.60,683.53 L296.26,683.00 L295.92,682.47 L295.58,681.94 L295.23,681.41 L294.90,680.89 L294.56,680.36 L294.22,679.83 L293.89,679.30 L293.57,678.77 L293.24,678.24 L292.93,677.71 L292.62,677.19 L292.32,676.66 L292.02,676.13 L291.74,675.60 L291.46,675.07 L291.19,674.54 L290.94,674.01 L290.69,673.48 L290.46,672.96 L290.23,672.43 L290.03,671.90 L289.83,671.37 L289.65,670.84 L289.48,670.31 L289.33,669.78 L289.19,669.25 L289.07,668.73 L288.96,668.20 L288.87,667.67 L288.79,667.14 L288.73,666.61 L288.68,666.08 L288.65,665.55 L288.64,665.02 L288.64,664.50 L288.66,663.97 L288.70,663.44 L288.75,662.91 L288.81,662.38 L288.90,661.85 L288.99,661.32 L289.10,660.79 L289.22,660.26 L289.36,659.74 L289.51,659.21 L289.67,658.68 L289.85,658.15 L290.03,657.62 L290.23,657.09 L290.43,656.56 L290.65,656.03 L290.87,655.51 L291.10,654.98 L291.34,654.45 L291.58,653.92 L291.83,653.39 L292.08,652.86 L292.34,652.33 L292.60,651.80 L292.86,651.28 L293.12,650.75 L293.38,650.22 L293.64,649.69 L293.90,649.16 L294.15,648.63 L294.40,648.10 L294.64,647.58 L294.88,647.05 L295.12,646.52 L295.34,645.99 L295.56,645.46 L295.76,644.93 L295.96,644.40 L296.15,643.87 L296.32,643.35 L296.49,642.82 L296.64,642.29 L296.78,641.76 L296.90,641.23 L297.01,640.70 L297.10,640.17 L297.18,639.64 L297.25,639.12 L297.29,638.59 L297.33,638.06 L297.34,637.53 L297.34,637.00 Z" fill="none" stroke="#000" stroke-width="3.5" stroke-linejoin="round"/>
<line x1="256.81" y1="693.30" x2="300.99" y2="693.30" stroke="#111" stroke-width="1.9" stroke-dasharray="4.6 4.3"/>
<circle cx="194.7" cy="833.6" r="7.9" fill="#0000bd"/>
<circle cx="194.7" cy="878.2" r="7.9" fill="#0000bd"/>
<circle cx="194.7" cy="902.9" r="7.9" fill="#0000bd"/>
<circle cx="278.8" cy="637.0" r="7.1" fill="none" stroke="#ff0000" stroke-width="4.1"/>
<circle cx="278.8" cy="693.3" r="7.1" fill="none" stroke="#ff0000" stroke-width="4.1"/>
<circle cx="278.7" cy="721.6" r="7.1" fill="none" stroke="#ff0000" stroke-width="4.1"/>
<path d="M138.8,578.25 V938.15 M334.9,578.25 V938.15" stroke="#000" stroke-width="3.5" fill="none"/>
<path d="M137.05,580.0 H336.65 M137.05,936.4 H336.65" stroke="#000" stroke-width="3.5" fill="none"/>
<line x1="195.1" y1="614.8" x2="281.1" y2="614.8" stroke="#1a1a1a" stroke-width="1.4"/>
<text x="233.20" y="618.10" class="st" text-anchor="middle">*</text>
<text x="247.00" y="618.10" class="st" text-anchor="middle">*</text>
<text transform="translate(28.30,827.70) rotate(-90)" class="yl1" style="font-size:28.5px" textLength="153.60" lengthAdjust="spacingAndGlyphs">Fold change</text>
<text transform="translate(61.70,862.50) rotate(-90)" class="yl2" style="font-size:26.7px" textLength="224.00" lengthAdjust="spacingAndGlyphs">ROR<tspan class="gam">&#947;</tspan>t-flanking site</text>
<line x1="492.2" y1="877.0" x2="668.71" y2="877.0" stroke="#000" stroke-width="3.3" stroke-linecap="round" stroke-dasharray="0 11.0313"/>
<line x1="465.8" y1="876.60" x2="481.3" y2="876.60" stroke="#000" stroke-width="3.5"/>
<text transform="translate(456.10,886.17) scale(1,1.03)" class="tk" style="font-size:27.5px" text-anchor="end">0</text>
<line x1="465.8" y1="757.40" x2="481.3" y2="757.40" stroke="#000" stroke-width="3.5"/>
<text transform="translate(456.10,766.97) scale(1,1.03)" class="tk" style="font-size:27.5px" text-anchor="end">2</text>
<line x1="465.8" y1="638.20" x2="481.3" y2="638.20" stroke="#000" stroke-width="3.5"/>
<text transform="translate(456.10,647.77) scale(1,1.03)" class="tk" style="font-size:27.5px" text-anchor="end">4</text>
<path d="M512.79,864.00 L512.63,864.18 L512.48,864.35 L512.34,864.53 L512.21,864.71 L512.09,864.88 L511.99,865.06 L511.90,865.24 L511.82,865.41 L511.75,865.59 L511.68,865.77 L511.63,865.95 L511.58,866.12 L511.55,866.30 L511.52,866.48 L511.49,866.65 L511.47,866.83 L511.46,867.01 L511.45,867.18 L511.45,867.36 L511.44,867.54 L511.45,867.71 L511.45,867.89 L511.45,868.07 L511.46,868.25 L511.47,868.42 L511.47,868.60 L511.48,868.78 L511.49,868.95 L511.49,869.13 L511.49,869.31 L511.50,869.48 L511.50,869.66 L511.50,869.84 L511.50,870.01 L511.49,870.19 L511.49,870.37 L511.48,870.54 L511.47,870.72 L511.47,870.90 L511.46,871.08 L511.45,871.25 L511.44,871.43 L511.43,871.61 L511.42,871.78 L511.41,871.96 L511.40,872.14 L511.40,872.31 L511.40,872.49 L511.40,872.67 L511.41,872.84 L511.42,873.02 L511.43,873.20 L511.45,873.37 L511.48,873.55 L511.52,873.73 L511.56,873.90 L511.60,874.08 L511.66,874.26 L511.73,874.44 L511.80,874.61 L511.89,874.79 L511.98,874.97 L512.08,875.14 L512.20,875.32 L512.32,875.50 L512.46,875.67 L512.60,875.85 L512.76,876.03 L512.93,876.20 L513.11,876.38 L513.29,876.56 L513.49,876.74 L513.70,876.91 L513.92,877.09 L514.15,877.27 L514.39,877.44 L514.63,877.62 L514.89,877.80 L515.15,877.97 L515.42,878.15 L515.69,878.33 L515.97,878.50 L516.25,878.68 L516.53,878.86 L516.82,879.03 L517.11,879.21 L517.40,879.39 L517.69,879.56 L517.98,879.74 L518.27,879.92 L518.56,880.10 L518.84,880.27 L519.11,880.45 L519.38,880.63 L519.64,880.80 L519.90,880.98 L520.14,881.16 L520.38,881.33 L520.60,881.51 L520.82,881.69 L521.02,881.86 L521.21,882.04 L521.38,882.22 L521.55,882.39 L521.69,882.57 L521.82,882.75 L521.94,882.93 L522.04,883.10 L522.12,883.28 L522.19,883.46 L522.24,883.63 L522.27,883.81 L522.28,883.99 L522.28,884.16 L522.26,884.34 L522.23,884.52 L522.17,884.69 L522.10,884.87 L522.02,885.05 L521.92,885.22 L521.80,885.40 L521.67,885.58 L521.52,885.76 L521.36,885.93 L521.19,886.11 L521.01,886.29 L520.82,886.46 L520.61,886.64 L520.40,886.82 L520.18,886.99 L519.95,887.17 L519.72,887.35 L519.48,887.52 L519.24,887.70 L518.99,887.88 L518.75,888.05 L518.50,888.23 L518.25,888.41 L518.01,888.59 L517.77,888.76 L517.53,888.94 L517.30,889.12 L517.07,889.29 L516.85,889.47 L516.65,889.65 L516.45,889.82 L516.26,890.00 L516.08,890.18 L515.92,890.35 L515.77,890.53 L515.63,890.71 L515.51,890.88 L515.40,891.06 L515.31,891.24 L515.24,891.42 L515.18,891.59 L515.15,891.77 L515.13,891.95 L515.13,892.12 L515.15,892.30 L560.05,892.30 L560.07,892.12 L560.07,891.95 L560.05,891.77 L560.02,891.59 L559.96,891.42 L559.89,891.24 L559.80,891.06 L559.69,890.88 L559.57,890.71 L559.43,890.53 L559.28,890.35 L559.12,890.18 L558.94,890.00 L558.75,889.82 L558.55,889.65 L558.35,889.47 L558.13,889.29 L557.90,889.12 L557.67,888.94 L557.43,888.76 L557.19,888.59 L556.95,888.41 L556.70,888.23 L556.45,888.05 L556.21,887.88 L555.96,887.70 L555.72,887.52 L555.48,887.35 L555.25,887.17 L555.02,886.99 L554.80,886.82 L554.59,886.64 L554.38,886.46 L554.19,886.29 L554.01,886.11 L553.84,885.93 L553.68,885.76 L553.53,885.58 L553.40,885.40 L553.28,885.22 L553.18,885.05 L553.10,884.87 L553.03,884.69 L552.97,884.52 L552.94,884.34 L552.92,884.16 L552.92,883.99 L552.93,883.81 L552.96,883.63 L553.01,883.46 L553.08,883.28 L553.16,883.10 L553.26,882.93 L553.38,882.75 L553.51,882.57 L553.65,882.39 L553.82,882.22 L553.99,882.04 L554.18,881.86 L554.38,881.69 L554.60,881.51 L554.82,881.33 L555.06,881.16 L555.30,880.98 L555.56,880.80 L555.82,880.63 L556.09,880.45 L556.36,880.27 L556.64,880.10 L556.93,879.92 L557.22,879.74 L557.51,879.56 L557.80,879.39 L558.09,879.21 L558.38,879.03 L558.67,878.86 L558.95,878.68 L559.23,878.50 L559.51,878.33 L559.78,878.15 L560.05,877.97 L560.31,877.80 L560.57,877.62 L560.81,877.44 L561.05,877.27 L561.28,877.09 L561.50,876.91 L561.71,876.74 L561.91,876.56 L562.09,876.38 L562.27,876.20 L562.44,876.03 L562.60,875.85 L562.74,875.67 L562.88,875.50 L563.00,875.32 L563.12,875.14 L563.22,874.97 L563.31,874.79 L563.40,874.61 L563.47,874.44 L563.54,874.26 L563.60,874.08 L563.64,873.90 L563.68,873.73 L563.72,873.55 L563.75,873.37 L563.77,873.20 L563.78,873.02 L563.79,872.84 L563.80,872.67 L563.80,872.49 L563.80,872.31 L563.80,872.14 L563.79,871.96 L563.78,871.78 L563.77,871.61 L563.76,871.43 L563.75,871.25 L563.74,871.08 L563.73,870.90 L563.73,870.72 L563.72,870.54 L563.71,870.37 L563.71,870.19 L563.70,870.01 L563.70,869.84 L563.70,869.66 L563.70,869.48 L563.71,869.31 L563.71,869.13 L563.71,868.95 L563.72,868.78 L563.73,868.60 L563.73,868.42 L563.74,868.25 L563.75,868.07 L563.75,867.89 L563.75,867.71 L563.76,867.54 L563.75,867.36 L563.75,867.18 L563.74,867.01 L563.73,866.83 L563.71,866.65 L563.68,866.48 L563.65,866.30 L563.62,866.12 L563.57,865.95 L563.52,865.77 L563.45,865.59 L563.38,865.41 L563.30,865.24 L563.21,865.06 L563.11,864.88 L562.99,864.71 L562.86,864.53 L562.72,864.35 L562.57,864.18 L562.41,864.00 Z" fill="none" stroke="#000" stroke-width="3.5" stroke-linejoin="round"/>
<line x1="513.46" y1="875.70" x2="561.74" y2="875.70" stroke="#111" stroke-width="1.9" stroke-dasharray="4.6 4.3"/>
<path d="M607.90,849.70 L607.90,849.93 L607.92,850.16 L607.95,850.39 L607.99,850.62 L608.04,850.85 L608.11,851.08 L608.19,851.31 L608.28,851.54 L608.37,851.77 L608.49,852.00 L608.61,852.23 L608.74,852.46 L608.88,852.69 L609.03,852.92 L609.19,853.15 L609.36,853.38 L609.53,853.61 L609.72,853.84 L609.91,854.07 L610.11,854.30 L610.31,854.53 L610.52,854.76 L610.74,854.99 L610.96,855.22 L611.18,855.45 L611.41,855.68 L611.64,855.91 L611.87,856.14 L612.10,856.37 L612.34,856.60 L612.58,856.83 L612.81,857.06 L613.05,857.29 L613.28,857.52 L613.51,857.75 L613.74,857.98 L613.97,858.21 L614.19,858.44 L614.41,858.67 L614.63,858.90 L614.84,859.13 L615.04,859.36 L615.24,859.59 L615.44,859.82 L615.62,860.05 L615.80,860.28 L615.97,860.51 L616.14,860.74 L616.29,860.97 L616.44,861.20 L616.58,861.43 L616.71,861.66 L616.82,861.89 L616.93,862.12 L617.03,862.35 L617.12,862.58 L617.20,862.81 L617.26,863.04 L617.32,863.27 L617.36,863.50 L617.40,863.73 L617.42,863.96 L617.42,864.19 L617.42,864.42 L617.41,864.65 L617.38,864.88 L617.34,865.11 L617.28,865.34 L617.22,865.57 L617.14,865.80 L617.05,866.03 L616.95,866.26 L616.83,866.49 L616.70,866.72 L616.56,866.95 L616.41,867.18 L616.24,867.41 L616.06,867.64 L615.87,867.87 L615.67,868.10 L615.45,868.33 L615.23,868.56 L614.99,868.79 L614.74,869.02 L614.48,869.25 L614.21,869.48 L613.92,869.71 L613.63,869.94 L613.32,870.17 L613.01,870.40 L612.69,870.63 L612.35,870.86 L612.01,871.09 L611.66,871.32 L611.30,871.55 L610.94,871.78 L610.56,872.01 L610.18,872.24 L609.80,872.47 L609.40,872.70 L609.01,872.93 L608.61,873.16 L608.20,873.39 L607.79,873.62 L607.38,873.85 L606.97,874.08 L606.55,874.31 L606.13,874.54 L605.72,874.77 L605.30,875.00 L604.89,875.23 L604.47,875.46 L604.06,875.69 L603.66,875.92 L603.25,876.15 L602.85,876.38 L602.46,876.61 L602.07,876.84 L601.69,877.07 L601.32,877.30 L600.95,877.53 L600.59,877.76 L600.25,877.99 L599.91,878.22 L599.58,878.45 L599.27,878.68 L598.97,878.91 L598.67,879.14 L598.40,879.37 L598.13,879.60 L597.88,879.83 L597.65,880.06 L597.43,880.29 L597.22,880.52 L597.04,880.75 L596.86,880.98 L596.71,881.21 L596.57,881.44 L596.45,881.67 L596.35,881.90 L596.26,882.13 L596.19,882.36 L596.14,882.59 L596.11,882.82 L596.10,883.05 L596.11,883.28 L596.13,883.51 L596.17,883.74 L596.23,883.97 L596.31,884.20 L596.41,884.43 L596.52,884.66 L596.65,884.89 L596.80,885.12 L596.96,885.35 L597.15,885.58 L597.34,885.81 L597.56,886.04 L597.79,886.27 L598.03,886.50 L646.57,886.50 L646.81,886.27 L647.04,886.04 L647.26,885.81 L647.45,885.58 L647.64,885.35 L647.80,885.12 L647.95,884.89 L648.08,884.66 L648.19,884.43 L648.29,884.20 L648.37,883.97 L648.43,883.74 L648.47,883.51 L648.49,883.28 L648.50,883.05 L648.49,882.82 L648.46,882.59 L648.41,882.36 L648.34,882.13 L648.25,881.90 L648.15,881.67 L648.03,881.44 L647.89,881.21 L647.74,880.98 L647.56,880.75 L647.38,880.52 L647.17,880.29 L646.95,880.06 L646.72,879.83 L646.47,879.60 L646.20,879.37 L645.93,879.14 L645.63,878.91 L645.33,878.68 L645.02,878.45 L644.69,878.22 L644.35,877.99 L644.01,877.76 L643.65,877.53 L643.28,877.30 L642.91,877.07 L642.53,876.84 L642.14,876.61 L641.75,876.38 L641.35,876.15 L640.94,875.92 L640.54,875.69 L640.13,875.46 L639.71,875.23 L639.30,875.00 L638.88,874.77 L638.47,874.54 L638.05,874.31 L637.63,874.08 L637.22,873.85 L636.81,873.62 L636.40,873.39 L635.99,873.16 L635.59,872.93 L635.20,872.70 L634.80,872.47 L634.42,872.24 L634.04,872.01 L633.66,871.78 L633.30,871.55 L632.94,871.32 L632.59,871.09 L632.25,870.86 L631.91,870.63 L631.59,870.40 L631.28,870.17 L630.97,869.94 L630.68,869.71 L630.39,869.48 L630.12,869.25 L629.86,869.02 L629.61,868.79 L629.37,868.56 L629.15,868.33 L628.93,868.10 L628.73,867.87 L628.54,867.64 L628.36,867.41 L628.19,867.18 L628.04,866.95 L627.90,866.72 L627.77,866.49 L627.65,866.26 L627.55,866.03 L627.46,865.80 L627.38,865.57 L627.32,865.34 L627.26,865.11 L627.22,864.88 L627.19,864.65 L627.18,864.42 L627.18,864.19 L627.18,863.96 L627.20,863.73 L627.24,863.50 L627.28,863.27 L627.34,863.04 L627.40,862.81 L627.48,862.58 L627.57,862.35 L627.67,862.12 L627.78,861.89 L627.89,861.66 L628.02,861.43 L628.16,861.20 L628.31,860.97 L628.46,860.74 L628.63,860.51 L628.80,860.28 L628.98,860.05 L629.16,859.82 L629.36,859.59 L629.56,859.36 L629.76,859.13 L629.97,858.90 L630.19,858.67 L630.41,858.44 L630.63,858.21 L630.86,857.98 L631.09,857.75 L631.32,857.52 L631.55,857.29 L631.79,857.06 L632.02,856.83 L632.26,856.60 L632.50,856.37 L632.73,856.14 L632.96,855.91 L633.19,855.68 L633.42,855.45 L633.64,855.22 L633.86,854.99 L634.08,854.76 L634.29,854.53 L634.49,854.30 L634.69,854.07 L634.88,853.84 L635.07,853.61 L635.24,853.38 L635.41,853.15 L635.57,852.92 L635.72,852.69 L635.86,852.46 L635.99,852.23 L636.11,852.00 L636.23,851.77 L636.32,851.54 L636.41,851.31 L636.49,851.08 L636.56,850.85 L636.61,850.62 L636.65,850.39 L636.68,850.16 L636.70,849.93 L636.70,849.70 Z" fill="none" stroke="#000" stroke-width="3.5" stroke-linejoin="round"/>
<line x1="599.13" y1="879.70" x2="645.47" y2="879.70" stroke="#111" stroke-width="1.9" stroke-dasharray="4.6 4.3"/>
<circle cx="537.6" cy="864.0" r="7.9" fill="#0000bd"/>
<circle cx="523.1" cy="875.7" r="7.9" fill="#0000bd"/>
<circle cx="552.0" cy="892.3" r="7.9" fill="#0000bd"/>
<circle cx="622.1" cy="849.7" r="7.1" fill="none" stroke="#ff0000" stroke-width="4.1"/>
<circle cx="608.0" cy="879.7" r="7.1" fill="none" stroke="#ff0000" stroke-width="4.1"/>
<circle cx="636.3" cy="886.5" r="7.1" fill="none" stroke="#ff0000" stroke-width="4.1"/>
<path d="M481.3,577.15 V938.15 M678.8,577.15 V938.15" stroke="#000" stroke-width="3.5" fill="none"/>
<path d="M479.55,578.9 H680.55 M479.55,936.4 H680.55" stroke="#000" stroke-width="3.5" fill="none"/>
<text transform="translate(382.00,832.50) rotate(-90)" class="yl1" style="font-size:28.5px" textLength="154.10" lengthAdjust="spacingAndGlyphs">Fold change</text>
<text transform="translate(415.30,894.70) rotate(-90)" class="yl2" style="font-size:26.3px" textLength="277.60" lengthAdjust="spacingAndGlyphs">non-ROR<tspan class="gam">&#947;</tspan>t-flanking site</text>
<text x="381.9" y="548" class="ti" style="font-size:29px">Il17</text>
<line x1="865.9" y1="880.7" x2="1044.01" y2="880.7" stroke="#000" stroke-width="3.3" stroke-linecap="round" stroke-dasharray="0 11.1313"/>
<line x1="839" y1="880.70" x2="855" y2="880.70" stroke="#000" stroke-width="3.6"/>
<text transform="translate(830.30,890.63) scale(1,1.03)" class="tk" style="font-size:28.5px" text-anchor="end">0</text>
<line x1="839" y1="770.30" x2="855" y2="770.30" stroke="#000" stroke-width="3.6"/>
<text transform="translate(830.30,780.23) scale(1,1.03)" class="tk" style="font-size:28.5px" text-anchor="end">2</text>
<line x1="839" y1="659.90" x2="855" y2="659.90" stroke="#000" stroke-width="3.6"/>
<text transform="translate(830.30,669.83) scale(1,1.03)" class="tk" style="font-size:28.5px" text-anchor="end">4</text>
<path d="M898.29,850.20 L898.29,850.53 L898.31,850.87 L898.34,851.20 L898.37,851.54 L898.42,851.87 L898.48,852.20 L898.54,852.54 L898.62,852.87 L898.71,853.20 L898.80,853.54 L898.91,853.87 L899.03,854.21 L899.15,854.54 L899.28,854.87 L899.42,855.21 L899.57,855.54 L899.72,855.87 L899.89,856.21 L900.06,856.54 L900.23,856.88 L900.41,857.21 L900.60,857.54 L900.79,857.88 L900.99,858.21 L901.19,858.54 L901.39,858.88 L901.60,859.21 L901.81,859.55 L902.02,859.88 L902.24,860.21 L902.46,860.55 L902.67,860.88 L902.89,861.21 L903.11,861.55 L903.32,861.88 L903.54,862.22 L903.75,862.55 L903.97,862.88 L904.18,863.22 L904.39,863.55 L904.59,863.88 L904.79,864.22 L904.99,864.55 L905.19,864.88 L905.38,865.22 L905.56,865.55 L905.74,865.89 L905.92,866.22 L906.08,866.55 L906.25,866.89 L906.40,867.22 L906.55,867.56 L906.69,867.89 L906.83,868.22 L906.95,868.56 L907.07,868.89 L907.18,869.22 L907.29,869.56 L907.38,869.89 L907.47,870.23 L907.54,870.56 L907.61,870.89 L907.67,871.23 L907.72,871.56 L907.75,871.89 L907.78,872.23 L907.80,872.56 L907.81,872.89 L907.81,873.23 L907.80,873.56 L907.77,873.90 L907.74,874.23 L907.69,874.56 L907.64,874.90 L907.57,875.23 L907.49,875.57 L907.41,875.90 L907.31,876.23 L907.19,876.57 L907.07,876.90 L906.94,877.23 L906.79,877.57 L906.63,877.90 L906.46,878.24 L906.28,878.57 L906.09,878.90 L905.89,879.24 L905.67,879.57 L905.45,879.90 L905.21,880.24 L904.96,880.57 L904.70,880.90 L904.43,881.24 L904.15,881.57 L903.86,881.91 L903.55,882.24 L903.24,882.57 L902.92,882.91 L902.59,883.24 L902.24,883.58 L901.89,883.91 L901.54,884.24 L901.17,884.58 L900.79,884.91 L900.41,885.24 L900.02,885.58 L899.62,885.91 L899.22,886.25 L898.81,886.58 L898.40,886.91 L897.98,887.25 L897.56,887.58 L897.14,887.91 L896.71,888.25 L896.28,888.58 L895.85,888.92 L895.42,889.25 L894.99,889.58 L894.56,889.92 L894.13,890.25 L893.71,890.58 L893.29,890.92 L892.87,891.25 L892.45,891.59 L892.04,891.92 L891.64,892.25 L891.24,892.59 L890.86,892.92 L890.48,893.25 L890.11,893.59 L889.75,893.92 L889.40,894.25 L889.06,894.59 L888.73,894.92 L888.42,895.26 L888.12,895.59 L887.83,895.92 L887.56,896.26 L887.31,896.59 L887.07,896.93 L886.85,897.26 L886.64,897.59 L886.45,897.93 L886.28,898.26 L886.13,898.59 L886.00,898.93 L885.88,899.26 L885.79,899.60 L885.71,899.93 L885.65,900.26 L885.62,900.60 L885.60,900.93 L885.60,901.26 L885.63,901.60 L885.67,901.93 L885.73,902.26 L885.81,902.60 L885.91,902.93 L886.03,903.27 L886.17,903.60 L937.03,903.60 L937.17,903.27 L937.29,902.93 L937.39,902.60 L937.47,902.26 L937.53,901.93 L937.57,901.60 L937.60,901.26 L937.60,900.93 L937.58,900.60 L937.55,900.26 L937.49,899.93 L937.41,899.60 L937.32,899.26 L937.20,898.93 L937.07,898.59 L936.92,898.26 L936.75,897.93 L936.56,897.59 L936.35,897.26 L936.13,896.93 L935.89,896.59 L935.64,896.26 L935.37,895.92 L935.08,895.59 L934.78,895.26 L934.47,894.92 L934.14,894.59 L933.80,894.25 L933.45,893.92 L933.09,893.59 L932.72,893.25 L932.34,892.92 L931.96,892.59 L931.56,892.25 L931.16,891.92 L930.75,891.59 L930.33,891.25 L929.91,890.92 L929.49,890.58 L929.07,890.25 L928.64,889.92 L928.21,889.58 L927.78,889.25 L927.35,888.92 L926.92,888.58 L926.49,888.25 L926.06,887.91 L925.64,887.58 L925.22,887.25 L924.80,886.91 L924.39,886.58 L923.98,886.25 L923.58,885.91 L923.18,885.58 L922.79,885.24 L922.41,884.91 L922.03,884.58 L921.66,884.24 L921.31,883.91 L920.96,883.58 L920.61,883.24 L920.28,882.91 L919.96,882.57 L919.65,882.24 L919.34,881.91 L919.05,881.57 L918.77,881.24 L918.50,880.90 L918.24,880.57 L917.99,880.24 L917.75,879.90 L917.53,879.57 L917.31,879.24 L917.11,878.90 L916.92,878.57 L916.74,878.24 L916.57,877.90 L916.41,877.57 L916.26,877.23 L916.13,876.90 L916.01,876.57 L915.89,876.23 L915.79,875.90 L915.71,875.57 L915.63,875.23 L915.56,874.90 L915.51,874.56 L915.46,874.23 L915.43,873.90 L915.40,873.56 L915.39,873.23 L915.39,872.89 L915.40,872.56 L915.42,872.23 L915.45,871.89 L915.48,871.56 L915.53,871.23 L915.59,870.89 L915.66,870.56 L915.73,870.23 L915.82,869.89 L915.91,869.56 L916.02,869.22 L916.13,868.89 L916.25,868.56 L916.37,868.22 L916.51,867.89 L916.65,867.56 L916.80,867.22 L916.95,866.89 L917.12,866.55 L917.28,866.22 L917.46,865.89 L917.64,865.55 L917.82,865.22 L918.01,864.88 L918.21,864.55 L918.41,864.22 L918.61,863.88 L918.81,863.55 L919.02,863.22 L919.23,862.88 L919.45,862.55 L919.66,862.22 L919.88,861.88 L920.09,861.55 L920.31,861.21 L920.53,860.88 L920.74,860.55 L920.96,860.21 L921.18,859.88 L921.39,859.55 L921.60,859.21 L921.81,858.88 L922.01,858.54 L922.21,858.21 L922.41,857.88 L922.60,857.54 L922.79,857.21 L922.97,856.88 L923.14,856.54 L923.31,856.21 L923.48,855.87 L923.63,855.54 L923.78,855.21 L923.92,854.87 L924.05,854.54 L924.17,854.21 L924.29,853.87 L924.40,853.54 L924.49,853.20 L924.58,852.87 L924.66,852.54 L924.72,852.20 L924.78,851.87 L924.83,851.54 L924.86,851.20 L924.89,850.87 L924.91,850.53 L924.91,850.20 Z" fill="none" stroke="#000" stroke-width="3.5" stroke-linejoin="round"/>
<line x1="887.13" y1="898.50" x2="936.07" y2="898.50" stroke="#111" stroke-width="1.9" stroke-dasharray="4.6 4.3"/>
<path d="M972.83,652.70 L972.65,653.62 L972.48,654.55 L972.33,655.47 L972.18,656.40 L972.05,657.32 L971.93,658.24 L971.81,659.17 L971.71,660.09 L971.62,661.01 L971.54,661.94 L971.46,662.86 L971.39,663.79 L971.33,664.71 L971.28,665.63 L971.24,666.56 L971.20,667.48 L971.16,668.40 L971.13,669.33 L971.11,670.25 L971.09,671.18 L971.07,672.10 L971.05,673.02 L971.04,673.95 L971.03,674.87 L971.02,675.79 L971.02,676.72 L971.01,677.64 L971.01,678.57 L971.01,679.49 L971.00,680.41 L971.00,681.34 L971.00,682.26 L971.00,683.18 L971.00,684.11 L971.00,685.03 L971.00,685.96 L971.00,686.88 L971.01,687.80 L971.01,688.73 L971.02,689.65 L971.02,690.57 L971.03,691.50 L971.05,692.42 L971.06,693.35 L971.08,694.27 L971.10,695.19 L971.13,696.12 L971.16,697.04 L971.20,697.96 L971.24,698.89 L971.29,699.81 L971.34,700.74 L971.40,701.66 L971.47,702.58 L971.55,703.51 L971.63,704.43 L971.72,705.35 L971.83,706.28 L971.94,707.20 L972.06,708.12 L972.19,709.05 L972.33,709.97 L972.48,710.90 L972.64,711.82 L972.81,712.74 L972.99,713.67 L973.18,714.59 L973.38,715.51 L973.59,716.44 L973.81,717.36 L974.04,718.29 L974.28,719.21 L974.53,720.13 L974.78,721.06 L975.04,721.98 L975.31,722.90 L975.59,723.83 L975.87,724.75 L976.16,725.68 L976.45,726.60 L976.74,727.52 L977.04,728.45 L977.34,729.37 L977.64,730.30 L977.94,731.22 L978.24,732.14 L978.54,733.07 L978.84,733.99 L979.13,734.91 L979.42,735.84 L979.70,736.76 L979.98,737.69 L980.25,738.61 L980.52,739.53 L980.77,740.46 L981.02,741.38 L981.25,742.30 L981.48,743.23 L981.69,744.15 L981.89,745.08 L982.07,746.00 L982.24,746.92 L982.40,747.85 L982.54,748.77 L982.67,749.69 L982.78,750.62 L982.88,751.54 L982.96,752.47 L983.02,753.39 L983.06,754.31 L983.09,755.24 L983.10,756.16 L983.10,757.08 L983.07,758.01 L983.04,758.93 L982.98,759.86 L982.91,760.78 L982.82,761.70 L982.71,762.63 L982.60,763.55 L982.46,764.47 L982.32,765.40 L982.16,766.32 L981.98,767.25 L981.80,768.17 L981.60,769.09 L981.40,770.02 L981.18,770.94 L980.96,771.86 L980.73,772.79 L980.49,773.71 L980.25,774.63 L980.01,775.56 L979.76,776.48 L979.51,777.41 L979.26,778.33 L979.00,779.25 L978.75,780.18 L978.51,781.10 L978.26,782.02 L978.02,782.95 L977.79,783.87 L977.56,784.80 L977.34,785.72 L977.13,786.64 L976.93,787.57 L976.74,788.49 L976.56,789.41 L976.40,790.34 L976.24,791.26 L976.11,792.19 L975.98,793.11 L975.87,794.03 L975.78,794.96 L975.71,795.88 L975.65,796.81 L975.61,797.73 L975.58,798.65 L975.58,799.58 L975.59,800.50 L1018.41,800.50 L1018.42,799.58 L1018.42,798.65 L1018.39,797.73 L1018.35,796.81 L1018.29,795.88 L1018.22,794.96 L1018.13,794.03 L1018.02,793.11 L1017.89,792.19 L1017.76,791.26 L1017.60,790.34 L1017.44,789.41 L1017.26,788.49 L1017.07,787.57 L1016.87,786.64 L1016.66,785.72 L1016.44,784.80 L1016.21,783.87 L1015.98,782.95 L1015.74,782.02 L1015.49,781.10 L1015.25,780.18 L1015.00,779.25 L1014.74,778.33 L1014.49,777.41 L1014.24,776.48 L1013.99,775.56 L1013.75,774.63 L1013.51,773.71 L1013.27,772.79 L1013.04,771.86 L1012.82,770.94 L1012.60,770.02 L1012.40,769.09 L1012.20,768.17 L1012.02,767.25 L1011.84,766.32 L1011.68,765.40 L1011.54,764.47 L1011.40,763.55 L1011.29,762.63 L1011.18,761.70 L1011.09,760.78 L1011.02,759.86 L1010.96,758.93 L1010.93,758.01 L1010.90,757.08 L1010.90,756.16 L1010.91,755.24 L1010.94,754.31 L1010.98,753.39 L1011.04,752.47 L1011.12,751.54 L1011.22,750.62 L1011.33,749.69 L1011.46,748.77 L1011.60,747.85 L1011.76,746.92 L1011.93,746.00 L1012.11,745.08 L1012.31,744.15 L1012.52,743.23 L1012.75,742.30 L1012.98,741.38 L1013.23,740.46 L1013.48,739.53 L1013.75,738.61 L1014.02,737.69 L1014.30,736.76 L1014.58,735.84 L1014.87,734.91 L1015.16,733.99 L1015.46,733.07 L1015.76,732.14 L1016.06,731.22 L1016.36,730.30 L1016.66,729.37 L1016.96,728.45 L1017.26,727.52 L1017.55,726.60 L1017.84,725.68 L1018.13,724.75 L1018.41,723.83 L1018.69,722.90 L1018.96,721.98 L1019.22,721.06 L1019.47,720.13 L1019.72,719.21 L1019.96,718.29 L1020.19,717.36 L1020.41,716.44 L1020.62,715.51 L1020.82,714.59 L1021.01,713.67 L1021.19,712.74 L1021.36,711.82 L1021.52,710.90 L1021.67,709.97 L1021.81,709.05 L1021.94,708.12 L1022.06,707.20 L1022.17,706.28 L1022.28,705.35 L1022.37,704.43 L1022.45,703.51 L1022.53,702.58 L1022.60,701.66 L1022.66,700.74 L1022.71,699.81 L1022.76,698.89 L1022.80,697.96 L1022.84,697.04 L1022.87,696.12 L1022.90,695.19 L1022.92,694.27 L1022.94,693.35 L1022.95,692.42 L1022.97,691.50 L1022.98,690.57 L1022.98,689.65 L1022.99,688.73 L1022.99,687.80 L1023.00,686.88 L1023.00,685.96 L1023.00,685.03 L1023.00,684.11 L1023.00,683.18 L1023.00,682.26 L1023.00,681.34 L1023.00,680.41 L1022.99,679.49 L1022.99,678.57 L1022.99,677.64 L1022.98,676.72 L1022.98,675.79 L1022.97,674.87 L1022.96,673.95 L1022.95,673.02 L1022.93,672.10 L1022.91,671.18 L1022.89,670.25 L1022.87,669.33 L1022.84,668.40 L1022.80,667.48 L1022.76,666.56 L1022.72,665.63 L1022.67,664.71 L1022.61,663.79 L1022.54,662.86 L1022.46,661.94 L1022.38,661.01 L1022.29,660.09 L1022.19,659.17 L1022.07,658.24 L1021.95,657.32 L1021.82,656.40 L1021.67,655.47 L1021.52,654.55 L1021.35,653.62 L1021.17,652.70 Z" fill="none" stroke="#000" stroke-width="3.5" stroke-linejoin="round"/>
<line x1="973.64" y1="711.50" x2="1020.36" y2="711.50" stroke="#111" stroke-width="1.9" stroke-dasharray="4.6 4.3"/>
<circle cx="911.7" cy="850.2" r="7.9" fill="#0000bd"/>
<circle cx="897.4" cy="898.5" r="7.9" fill="#0000bd"/>
<circle cx="925.7" cy="903.6" r="7.9" fill="#0000bd"/>
<circle cx="996.9" cy="652.7" r="7.1" fill="none" stroke="#ff0000" stroke-width="4.1"/>
<circle cx="996.9" cy="711.5" r="7.1" fill="none" stroke="#ff0000" stroke-width="4.1"/>
<circle cx="996.9" cy="800.5" r="7.1" fill="none" stroke="#ff0000" stroke-width="4.1"/>
<path d="M855,575.95 V936.95 M1054.9,575.95 V936.95" stroke="#000" stroke-width="3.5" fill="none"/>
<path d="M853.25,577.7 H1056.65 M853.25,935.2 H1056.65" stroke="#000" stroke-width="3.5" fill="none"/>
<line x1="908.1" y1="619.9" x2="994.8" y2="619.9" stroke="#1a1a1a" stroke-width="1.4"/>
<text x="953.50" y="619.30" class="st" text-anchor="middle">*</text>
<text transform="translate(756.20,831.60) rotate(-90)" class="yl1" style="font-size:30px" textLength="154.60" lengthAdjust="spacingAndGlyphs">Fold change</text>
<text transform="translate(789.70,866.80) rotate(-90)" class="yl2" style="font-size:28.5px" textLength="223.10" lengthAdjust="spacingAndGlyphs">ROR<tspan class="gam">&#947;</tspan>t-flanking site</text>
<text x="937.8" y="549.8" class="ti" style="font-size:30.3px">Il22</text>
<line x1="1205.9" y1="866.6" x2="1384.31" y2="866.6" stroke="#000" stroke-width="3.3" stroke-linecap="round" stroke-dasharray="0 11.1500"/>
<line x1="1178.3" y1="866.00" x2="1194.8" y2="866.00" stroke="#000" stroke-width="3.6"/>
<text transform="translate(1169.60,875.93) scale(1,1.03)" class="tk" style="font-size:28.5px" text-anchor="end">0</text>
<line x1="1178.3" y1="793.00" x2="1194.8" y2="793.00" stroke="#000" stroke-width="3.6"/>
<text transform="translate(1169.60,802.93) scale(1,1.03)" class="tk" style="font-size:28.5px" text-anchor="end">2</text>
<line x1="1178.3" y1="720.00" x2="1194.8" y2="720.00" stroke="#000" stroke-width="3.6"/>
<text transform="translate(1169.60,729.93) scale(1,1.03)" class="tk" style="font-size:28.5px" text-anchor="end">4</text>
<line x1="1178.3" y1="647.00" x2="1194.8" y2="647.00" stroke="#000" stroke-width="3.6"/>
<text transform="translate(1169.60,656.93) scale(1,1.03)" class="tk" style="font-size:28.5px" text-anchor="end">6</text>
<path d="M1227.56,858.20 L1227.38,858.31 L1227.22,858.43 L1227.07,858.54 L1226.93,858.65 L1226.81,858.77 L1226.69,858.88 L1226.59,858.99 L1226.49,859.11 L1226.41,859.22 L1226.33,859.33 L1226.26,859.44 L1226.20,859.56 L1226.15,859.67 L1226.11,859.78 L1226.07,859.90 L1226.03,860.01 L1226.01,860.12 L1225.98,860.24 L1225.97,860.35 L1225.95,860.46 L1225.94,860.58 L1225.93,860.69 L1225.92,860.80 L1225.92,860.92 L1225.92,861.03 L1225.91,861.14 L1225.91,861.25 L1225.91,861.37 L1225.91,861.48 L1225.91,861.59 L1225.91,861.71 L1225.91,861.82 L1225.91,861.93 L1225.91,862.05 L1225.90,862.16 L1225.90,862.27 L1225.90,862.39 L1225.90,862.50 L1225.90,862.61 L1225.90,862.73 L1225.90,862.84 L1225.90,862.95 L1225.91,863.06 L1225.91,863.18 L1225.92,863.29 L1225.94,863.40 L1225.95,863.52 L1225.97,863.63 L1225.99,863.74 L1226.02,863.86 L1226.06,863.97 L1226.10,864.08 L1226.15,864.20 L1226.20,864.31 L1226.26,864.42 L1226.33,864.53 L1226.41,864.65 L1226.49,864.76 L1226.59,864.87 L1226.69,864.99 L1226.81,865.10 L1226.93,865.21 L1227.07,865.33 L1227.21,865.44 L1227.36,865.55 L1227.53,865.67 L1227.70,865.78 L1227.89,865.89 L1228.09,866.01 L1228.29,866.12 L1228.51,866.23 L1228.73,866.35 L1228.97,866.46 L1229.21,866.57 L1229.46,866.68 L1229.72,866.80 L1229.98,866.91 L1230.25,867.02 L1230.53,867.14 L1230.82,867.25 L1231.10,867.36 L1231.39,867.48 L1231.69,867.59 L1231.98,867.70 L1232.28,867.82 L1232.58,867.93 L1232.87,868.04 L1233.17,868.15 L1233.46,868.27 L1233.75,868.38 L1234.03,868.49 L1234.31,868.61 L1234.59,868.72 L1234.85,868.83 L1235.11,868.95 L1235.36,869.06 L1235.60,869.17 L1235.82,869.29 L1236.04,869.40 L1236.25,869.51 L1236.44,869.63 L1236.61,869.74 L1236.78,869.85 L1236.93,869.97 L1237.06,870.08 L1237.18,870.19 L1237.28,870.30 L1237.37,870.42 L1237.44,870.53 L1237.49,870.64 L1237.53,870.76 L1237.54,870.87 L1237.55,870.98 L1237.53,871.10 L1237.50,871.21 L1237.45,871.32 L1237.38,871.44 L1237.30,871.55 L1237.20,871.66 L1237.09,871.77 L1236.96,871.89 L1236.82,872.00 L1236.67,872.11 L1236.50,872.23 L1236.32,872.34 L1236.13,872.45 L1235.93,872.57 L1235.72,872.68 L1235.50,872.79 L1235.27,872.91 L1235.04,873.02 L1234.80,873.13 L1234.56,873.25 L1234.31,873.36 L1234.06,873.47 L1233.81,873.58 L1233.56,873.70 L1233.31,873.81 L1233.07,873.92 L1232.82,874.04 L1232.59,874.15 L1232.35,874.26 L1232.13,874.38 L1231.91,874.49 L1231.70,874.60 L1231.50,874.72 L1231.31,874.83 L1231.13,874.94 L1230.96,875.06 L1230.81,875.17 L1230.68,875.28 L1230.55,875.39 L1230.44,875.51 L1230.35,875.62 L1230.28,875.73 L1230.22,875.85 L1230.18,875.96 L1230.16,876.07 L1230.16,876.19 L1230.17,876.30 L1273.63,876.30 L1273.64,876.19 L1273.64,876.07 L1273.62,875.96 L1273.58,875.85 L1273.52,875.73 L1273.45,875.62 L1273.36,875.51 L1273.25,875.39 L1273.12,875.28 L1272.99,875.17 L1272.84,875.06 L1272.67,874.94 L1272.49,874.83 L1272.30,874.72 L1272.10,874.60 L1271.89,874.49 L1271.67,874.38 L1271.45,874.26 L1271.21,874.15 L1270.98,874.04 L1270.73,873.92 L1270.49,873.81 L1270.24,873.70 L1269.99,873.58 L1269.74,873.47 L1269.49,873.36 L1269.24,873.25 L1269.00,873.13 L1268.76,873.02 L1268.53,872.91 L1268.30,872.79 L1268.08,872.68 L1267.87,872.57 L1267.67,872.45 L1267.48,872.34 L1267.30,872.23 L1267.13,872.11 L1266.98,872.00 L1266.84,871.89 L1266.71,871.77 L1266.60,871.66 L1266.50,871.55 L1266.42,871.44 L1266.35,871.32 L1266.30,871.21 L1266.27,871.10 L1266.25,870.98 L1266.26,870.87 L1266.27,870.76 L1266.31,870.64 L1266.36,870.53 L1266.43,870.42 L1266.52,870.30 L1266.62,870.19 L1266.74,870.08 L1266.87,869.97 L1267.02,869.85 L1267.19,869.74 L1267.36,869.63 L1267.55,869.51 L1267.76,869.40 L1267.98,869.29 L1268.20,869.17 L1268.44,869.06 L1268.69,868.95 L1268.95,868.83 L1269.21,868.72 L1269.49,868.61 L1269.77,868.49 L1270.05,868.38 L1270.34,868.27 L1270.63,868.15 L1270.93,868.04 L1271.22,867.93 L1271.52,867.82 L1271.82,867.70 L1272.11,867.59 L1272.41,867.48 L1272.70,867.36 L1272.98,867.25 L1273.27,867.14 L1273.55,867.02 L1273.82,866.91 L1274.08,866.80 L1274.34,866.68 L1274.59,866.57 L1274.83,866.46 L1275.07,866.35 L1275.29,866.23 L1275.51,866.12 L1275.71,866.01 L1275.91,865.89 L1276.10,865.78 L1276.27,865.67 L1276.44,865.55 L1276.59,865.44 L1276.73,865.33 L1276.87,865.21 L1276.99,865.10 L1277.11,864.99 L1277.21,864.87 L1277.31,864.76 L1277.39,864.65 L1277.47,864.53 L1277.54,864.42 L1277.60,864.31 L1277.65,864.20 L1277.70,864.08 L1277.74,863.97 L1277.78,863.86 L1277.81,863.74 L1277.83,863.63 L1277.85,863.52 L1277.86,863.40 L1277.88,863.29 L1277.89,863.18 L1277.89,863.06 L1277.90,862.95 L1277.90,862.84 L1277.90,862.73 L1277.90,862.61 L1277.90,862.50 L1277.90,862.39 L1277.90,862.27 L1277.90,862.16 L1277.89,862.05 L1277.89,861.93 L1277.89,861.82 L1277.89,861.71 L1277.89,861.59 L1277.89,861.48 L1277.89,861.37 L1277.89,861.25 L1277.89,861.14 L1277.88,861.03 L1277.88,860.92 L1277.88,860.80 L1277.87,860.69 L1277.86,860.58 L1277.85,860.46 L1277.83,860.35 L1277.82,860.24 L1277.79,860.12 L1277.77,860.01 L1277.73,859.90 L1277.69,859.78 L1277.65,859.67 L1277.60,859.56 L1277.54,859.44 L1277.47,859.33 L1277.39,859.22 L1277.31,859.11 L1277.21,858.99 L1277.11,858.88 L1276.99,858.77 L1276.87,858.65 L1276.73,858.54 L1276.58,858.43 L1276.42,858.31 L1276.24,858.20 Z" fill="none" stroke="#000" stroke-width="3.5" stroke-linejoin="round"/>
<line x1="1228.36" y1="865.50" x2="1275.44" y2="865.50" stroke="#111" stroke-width="1.9" stroke-dasharray="4.6 4.3"/>
<path d="M1322.74,849.80 L1322.74,849.94 L1322.76,850.09 L1322.79,850.23 L1322.83,850.37 L1322.89,850.52 L1322.95,850.66 L1323.03,850.80 L1323.12,850.94 L1323.22,851.09 L1323.34,851.23 L1323.46,851.37 L1323.59,851.52 L1323.74,851.66 L1323.89,851.80 L1324.05,851.95 L1324.22,852.09 L1324.40,852.23 L1324.59,852.38 L1324.79,852.52 L1324.99,852.66 L1325.19,852.81 L1325.41,852.95 L1325.62,853.09 L1325.85,853.24 L1326.07,853.38 L1326.30,853.52 L1326.54,853.66 L1326.77,853.81 L1327.01,853.95 L1327.24,854.09 L1327.48,854.24 L1327.72,854.38 L1327.95,854.52 L1328.19,854.67 L1328.42,854.81 L1328.65,854.95 L1328.88,855.10 L1329.10,855.24 L1329.32,855.38 L1329.53,855.52 L1329.74,855.67 L1329.94,855.81 L1330.14,855.95 L1330.33,856.10 L1330.51,856.24 L1330.69,856.38 L1330.85,856.53 L1331.01,856.67 L1331.16,856.81 L1331.30,856.96 L1331.43,857.10 L1331.56,857.24 L1331.67,857.39 L1331.77,857.53 L1331.86,857.67 L1331.94,857.81 L1332.00,857.96 L1332.06,858.10 L1332.10,858.24 L1332.14,858.39 L1332.16,858.53 L1332.17,858.67 L1332.16,858.82 L1332.15,858.96 L1332.12,859.10 L1332.08,859.25 L1332.02,859.39 L1331.95,859.53 L1331.87,859.68 L1331.78,859.82 L1331.68,859.96 L1331.56,860.11 L1331.43,860.25 L1331.28,860.39 L1331.13,860.53 L1330.96,860.68 L1330.78,860.82 L1330.58,860.96 L1330.38,861.11 L1330.16,861.25 L1329.93,861.39 L1329.69,861.54 L1329.44,861.68 L1329.17,861.82 L1328.90,861.97 L1328.61,862.11 L1328.32,862.25 L1328.01,862.39 L1327.70,862.54 L1327.37,862.68 L1327.04,862.82 L1326.70,862.97 L1326.35,863.11 L1325.99,863.25 L1325.63,863.40 L1325.26,863.54 L1324.88,863.68 L1324.50,863.83 L1324.11,863.97 L1323.72,864.11 L1323.32,864.26 L1322.92,864.40 L1322.52,864.54 L1322.12,864.69 L1321.71,864.83 L1321.30,864.97 L1320.90,865.11 L1320.49,865.26 L1320.08,865.40 L1319.68,865.54 L1319.28,865.69 L1318.88,865.83 L1318.48,865.97 L1318.09,866.12 L1317.70,866.26 L1317.32,866.40 L1316.95,866.55 L1316.58,866.69 L1316.22,866.83 L1315.87,866.98 L1315.53,867.12 L1315.20,867.26 L1314.87,867.40 L1314.56,867.55 L1314.26,867.69 L1313.97,867.83 L1313.70,867.98 L1313.43,868.12 L1313.18,868.26 L1312.95,868.41 L1312.72,868.55 L1312.52,868.69 L1312.33,868.84 L1312.15,868.98 L1311.99,869.12 L1311.84,869.26 L1311.72,869.41 L1311.61,869.55 L1311.51,869.69 L1311.43,869.84 L1311.37,869.98 L1311.33,870.12 L1311.31,870.27 L1311.30,870.41 L1311.31,870.55 L1311.34,870.70 L1311.38,870.84 L1311.45,870.98 L1311.53,871.13 L1311.62,871.27 L1311.74,871.41 L1311.87,871.56 L1312.01,871.70 L1312.18,871.84 L1312.36,871.98 L1312.55,872.13 L1312.76,872.27 L1312.99,872.41 L1313.23,872.56 L1313.48,872.70 L1361.12,872.70 L1361.37,872.56 L1361.61,872.41 L1361.84,872.27 L1362.05,872.13 L1362.24,871.98 L1362.42,871.84 L1362.59,871.70 L1362.73,871.56 L1362.86,871.41 L1362.98,871.27 L1363.07,871.13 L1363.15,870.98 L1363.22,870.84 L1363.26,870.70 L1363.29,870.55 L1363.30,870.41 L1363.29,870.27 L1363.27,870.12 L1363.23,869.98 L1363.17,869.84 L1363.09,869.69 L1362.99,869.55 L1362.88,869.41 L1362.76,869.26 L1362.61,869.12 L1362.45,868.98 L1362.27,868.84 L1362.08,868.69 L1361.88,868.55 L1361.65,868.41 L1361.42,868.26 L1361.17,868.12 L1360.90,867.98 L1360.63,867.83 L1360.34,867.69 L1360.04,867.55 L1359.73,867.40 L1359.40,867.26 L1359.07,867.12 L1358.73,866.98 L1358.38,866.83 L1358.02,866.69 L1357.65,866.55 L1357.28,866.40 L1356.90,866.26 L1356.51,866.12 L1356.12,865.97 L1355.72,865.83 L1355.32,865.69 L1354.92,865.54 L1354.52,865.40 L1354.11,865.26 L1353.70,865.11 L1353.30,864.97 L1352.89,864.83 L1352.48,864.69 L1352.08,864.54 L1351.68,864.40 L1351.28,864.26 L1350.88,864.11 L1350.49,863.97 L1350.10,863.83 L1349.72,863.68 L1349.34,863.54 L1348.97,863.40 L1348.61,863.25 L1348.25,863.11 L1347.90,862.97 L1347.56,862.82 L1347.23,862.68 L1346.90,862.54 L1346.59,862.39 L1346.28,862.25 L1345.99,862.11 L1345.70,861.97 L1345.43,861.82 L1345.16,861.68 L1344.91,861.54 L1344.67,861.39 L1344.44,861.25 L1344.22,861.11 L1344.02,860.96 L1343.82,860.82 L1343.64,860.68 L1343.47,860.53 L1343.32,860.39 L1343.17,860.25 L1343.04,860.11 L1342.92,859.96 L1342.82,859.82 L1342.73,859.68 L1342.65,859.53 L1342.58,859.39 L1342.52,859.25 L1342.48,859.10 L1342.45,858.96 L1342.44,858.82 L1342.43,858.67 L1342.44,858.53 L1342.46,858.39 L1342.50,858.24 L1342.54,858.10 L1342.60,857.96 L1342.66,857.81 L1342.74,857.67 L1342.83,857.53 L1342.93,857.39 L1343.04,857.24 L1343.17,857.10 L1343.30,856.96 L1343.44,856.81 L1343.59,856.67 L1343.75,856.53 L1343.91,856.38 L1344.09,856.24 L1344.27,856.10 L1344.46,855.95 L1344.66,855.81 L1344.86,855.67 L1345.07,855.52 L1345.28,855.38 L1345.50,855.24 L1345.72,855.10 L1345.95,854.95 L1346.18,854.81 L1346.41,854.67 L1346.65,854.52 L1346.88,854.38 L1347.12,854.24 L1347.36,854.09 L1347.59,853.95 L1347.83,853.81 L1348.06,853.66 L1348.30,853.52 L1348.53,853.38 L1348.75,853.24 L1348.98,853.09 L1349.19,852.95 L1349.41,852.81 L1349.61,852.66 L1349.81,852.52 L1350.01,852.38 L1350.20,852.23 L1350.38,852.09 L1350.55,851.95 L1350.71,851.80 L1350.86,851.66 L1351.01,851.52 L1351.14,851.37 L1351.26,851.23 L1351.38,851.09 L1351.48,850.94 L1351.57,850.80 L1351.65,850.66 L1351.71,850.52 L1351.77,850.37 L1351.81,850.23 L1351.84,850.09 L1351.86,849.94 L1351.86,849.80 Z" fill="none" stroke="#000" stroke-width="3.5" stroke-linejoin="round"/>
<line x1="1314.43" y1="868.10" x2="1360.17" y2="868.10" stroke="#111" stroke-width="1.9" stroke-dasharray="4.6 4.3"/>
<circle cx="1232.7" cy="858.2" r="7.9" fill="#0000bd"/>
<circle cx="1251.6" cy="865.5" r="7.9" fill="#0000bd"/>
<circle cx="1270.6" cy="876.3" r="7.9" fill="#0000bd"/>
<circle cx="1337.1" cy="849.8" r="7.1" fill="none" stroke="#ff0000" stroke-width="4.1"/>
<circle cx="1322.7" cy="868.1" r="7.1" fill="none" stroke="#ff0000" stroke-width="4.1"/>
<circle cx="1351.5" cy="872.7" r="7.1" fill="none" stroke="#ff0000" stroke-width="4.1"/>
<path d="M1194.8,576.35 V937.25 M1394.5,576.35 V937.25" stroke="#000" stroke-width="3.5" fill="none"/>
<path d="M1193.05,578.1 H1396.25 M1193.05,935.5 H1396.25" stroke="#000" stroke-width="3.5" fill="none"/>
<text transform="translate(1098.00,830.30) rotate(-90)" class="yl1" style="font-size:30px" textLength="155.10" lengthAdjust="spacingAndGlyphs">Fold change</text>
<text transform="translate(1131.90,893.30) rotate(-90)" class="yl2" style="font-size:27px" textLength="277.40" lengthAdjust="spacingAndGlyphs">non-ROR<tspan class="gam">&#947;</tspan>t-flanking site</text>
<text x="1248.9" y="551.5" class="ti" style="font-size:30.3px">Dnajb6</text>
<line x1="1553.7" y1="866.5" x2="1731.91" y2="866.5" stroke="#000" stroke-width="3.3" stroke-linecap="round" stroke-dasharray="0 11.1375"/>
<line x1="1526.6" y1="866.00" x2="1542.9" y2="866.00" stroke="#000" stroke-width="3.6"/>
<text transform="translate(1517.90,875.93) scale(1,1.03)" class="tk" style="font-size:28.5px" text-anchor="end">0</text>
<line x1="1526.6" y1="793.00" x2="1542.9" y2="793.00" stroke="#000" stroke-width="3.6"/>
<text transform="translate(1517.90,802.93) scale(1,1.03)" class="tk" style="font-size:28.5px" text-anchor="end">2</text>
<line x1="1526.6" y1="720.00" x2="1542.9" y2="720.00" stroke="#000" stroke-width="3.6"/>
<text transform="translate(1517.90,729.93) scale(1,1.03)" class="tk" style="font-size:28.5px" text-anchor="end">4</text>
<line x1="1526.6" y1="647.00" x2="1542.9" y2="647.00" stroke="#000" stroke-width="3.6"/>
<text transform="translate(1517.90,656.93) scale(1,1.03)" class="tk" style="font-size:28.5px" text-anchor="end">6</text>
<path d="M1585.76,846.90 L1585.76,847.12 L1585.78,847.34 L1585.81,847.56 L1585.84,847.78 L1585.89,848.01 L1585.95,848.23 L1586.02,848.45 L1586.10,848.67 L1586.19,848.89 L1586.29,849.11 L1586.40,849.33 L1586.52,849.55 L1586.65,849.78 L1586.79,850.00 L1586.93,850.22 L1587.09,850.44 L1587.25,850.66 L1587.42,850.88 L1587.59,851.10 L1587.77,851.32 L1587.96,851.55 L1588.15,851.77 L1588.35,851.99 L1588.56,852.21 L1588.76,852.43 L1588.97,852.65 L1589.19,852.87 L1589.40,853.10 L1589.62,853.32 L1589.84,853.54 L1590.06,853.76 L1590.28,853.98 L1590.51,854.20 L1590.73,854.42 L1590.95,854.64 L1591.17,854.87 L1591.39,855.09 L1591.60,855.31 L1591.82,855.53 L1592.03,855.75 L1592.24,855.97 L1592.44,856.19 L1592.64,856.41 L1592.83,856.63 L1593.02,856.86 L1593.21,857.08 L1593.38,857.30 L1593.55,857.52 L1593.72,857.74 L1593.88,857.96 L1594.03,858.18 L1594.17,858.40 L1594.31,858.63 L1594.44,858.85 L1594.56,859.07 L1594.67,859.29 L1594.77,859.51 L1594.87,859.73 L1594.95,859.95 L1595.03,860.17 L1595.09,860.40 L1595.15,860.62 L1595.19,860.84 L1595.23,861.06 L1595.25,861.28 L1595.26,861.50 L1595.27,861.72 L1595.26,861.94 L1595.24,862.17 L1595.21,862.39 L1595.17,862.61 L1595.12,862.83 L1595.05,863.05 L1594.98,863.27 L1594.89,863.49 L1594.79,863.71 L1594.68,863.94 L1594.56,864.16 L1594.43,864.38 L1594.28,864.60 L1594.12,864.82 L1593.96,865.04 L1593.77,865.26 L1593.58,865.49 L1593.38,865.71 L1593.16,865.93 L1592.93,866.15 L1592.69,866.37 L1592.44,866.59 L1592.18,866.81 L1591.91,867.03 L1591.63,867.25 L1591.33,867.48 L1591.03,867.70 L1590.72,867.92 L1590.39,868.14 L1590.06,868.36 L1589.72,868.58 L1589.37,868.80 L1589.01,869.02 L1588.64,869.25 L1588.26,869.47 L1587.88,869.69 L1587.49,869.91 L1587.09,870.13 L1586.69,870.35 L1586.28,870.57 L1585.87,870.79 L1585.45,871.02 L1585.03,871.24 L1584.61,871.46 L1584.19,871.68 L1583.76,871.90 L1583.33,872.12 L1582.90,872.34 L1582.48,872.56 L1582.05,872.79 L1581.62,873.01 L1581.20,873.23 L1580.78,873.45 L1580.37,873.67 L1579.96,873.89 L1579.56,874.11 L1579.16,874.33 L1578.77,874.56 L1578.39,874.78 L1578.01,875.00 L1577.65,875.22 L1577.30,875.44 L1576.95,875.66 L1576.62,875.88 L1576.30,876.11 L1576.00,876.33 L1575.70,876.55 L1575.43,876.77 L1575.16,876.99 L1574.92,877.21 L1574.68,877.43 L1574.47,877.65 L1574.27,877.88 L1574.09,878.10 L1573.93,878.32 L1573.78,878.54 L1573.66,878.76 L1573.55,878.98 L1573.46,879.20 L1573.39,879.42 L1573.34,879.64 L1573.31,879.87 L1573.30,880.09 L1573.31,880.31 L1573.34,880.53 L1573.39,880.75 L1573.45,880.97 L1573.54,881.19 L1573.65,881.41 L1573.77,881.64 L1573.91,881.86 L1574.07,882.08 L1574.25,882.30 L1624.35,882.30 L1624.53,882.08 L1624.69,881.86 L1624.83,881.64 L1624.95,881.41 L1625.06,881.19 L1625.15,880.97 L1625.21,880.75 L1625.26,880.53 L1625.29,880.31 L1625.30,880.09 L1625.29,879.87 L1625.26,879.64 L1625.21,879.42 L1625.14,879.20 L1625.05,878.98 L1624.94,878.76 L1624.82,878.54 L1624.67,878.32 L1624.51,878.10 L1624.33,877.88 L1624.13,877.65 L1623.92,877.43 L1623.68,877.21 L1623.44,876.99 L1623.17,876.77 L1622.90,876.55 L1622.60,876.33 L1622.30,876.11 L1621.98,875.88 L1621.65,875.66 L1621.30,875.44 L1620.95,875.22 L1620.59,875.00 L1620.21,874.78 L1619.83,874.56 L1619.44,874.33 L1619.04,874.11 L1618.64,873.89 L1618.23,873.67 L1617.82,873.45 L1617.40,873.23 L1616.98,873.01 L1616.55,872.79 L1616.12,872.56 L1615.70,872.34 L1615.27,872.12 L1614.84,871.90 L1614.41,871.68 L1613.99,871.46 L1613.57,871.24 L1613.15,871.02 L1612.73,870.79 L1612.32,870.57 L1611.91,870.35 L1611.51,870.13 L1611.11,869.91 L1610.72,869.69 L1610.34,869.47 L1609.96,869.25 L1609.59,869.02 L1609.23,868.80 L1608.88,868.58 L1608.54,868.36 L1608.21,868.14 L1607.88,867.92 L1607.57,867.70 L1607.27,867.48 L1606.97,867.25 L1606.69,867.03 L1606.42,866.81 L1606.16,866.59 L1605.91,866.37 L1605.67,866.15 L1605.44,865.93 L1605.22,865.71 L1605.02,865.49 L1604.83,865.26 L1604.64,865.04 L1604.48,864.82 L1604.32,864.60 L1604.17,864.38 L1604.04,864.16 L1603.92,863.94 L1603.81,863.71 L1603.71,863.49 L1603.62,863.27 L1603.55,863.05 L1603.48,862.83 L1603.43,862.61 L1603.39,862.39 L1603.36,862.17 L1603.34,861.94 L1603.33,861.72 L1603.34,861.50 L1603.35,861.28 L1603.37,861.06 L1603.41,860.84 L1603.45,860.62 L1603.51,860.40 L1603.57,860.17 L1603.65,859.95 L1603.73,859.73 L1603.83,859.51 L1603.93,859.29 L1604.04,859.07 L1604.16,858.85 L1604.29,858.63 L1604.43,858.40 L1604.57,858.18 L1604.72,857.96 L1604.88,857.74 L1605.05,857.52 L1605.22,857.30 L1605.39,857.08 L1605.58,856.86 L1605.77,856.63 L1605.96,856.41 L1606.16,856.19 L1606.36,855.97 L1606.57,855.75 L1606.78,855.53 L1607.00,855.31 L1607.21,855.09 L1607.43,854.87 L1607.65,854.64 L1607.87,854.42 L1608.09,854.20 L1608.32,853.98 L1608.54,853.76 L1608.76,853.54 L1608.98,853.32 L1609.20,853.10 L1609.41,852.87 L1609.63,852.65 L1609.84,852.43 L1610.04,852.21 L1610.25,851.99 L1610.45,851.77 L1610.64,851.55 L1610.83,851.32 L1611.01,851.10 L1611.18,850.88 L1611.35,850.66 L1611.51,850.44 L1611.67,850.22 L1611.81,850.00 L1611.95,849.78 L1612.08,849.55 L1612.20,849.33 L1612.31,849.11 L1612.41,848.89 L1612.50,848.67 L1612.58,848.45 L1612.65,848.23 L1612.71,848.01 L1612.76,847.78 L1612.79,847.56 L1612.82,847.34 L1612.84,847.12 L1612.84,846.90 Z" fill="none" stroke="#000" stroke-width="3.5" stroke-linejoin="round"/>
<line x1="1575.27" y1="877.90" x2="1623.33" y2="877.90" stroke="#111" stroke-width="1.9" stroke-dasharray="4.6 4.3"/>
<path d="M1671.63,844.20 L1671.63,844.47 L1671.65,844.74 L1671.67,845.01 L1671.71,845.28 L1671.75,845.55 L1671.81,845.82 L1671.88,846.09 L1671.95,846.36 L1672.03,846.63 L1672.13,846.90 L1672.23,847.17 L1672.34,847.44 L1672.46,847.71 L1672.59,847.98 L1672.73,848.25 L1672.87,848.52 L1673.02,848.79 L1673.18,849.06 L1673.35,849.33 L1673.52,849.60 L1673.69,849.87 L1673.88,850.14 L1674.06,850.41 L1674.26,850.68 L1674.45,850.95 L1674.65,851.22 L1674.85,851.49 L1675.06,851.76 L1675.27,852.03 L1675.48,852.30 L1675.69,852.57 L1675.90,852.84 L1676.12,853.11 L1676.33,853.38 L1676.54,853.65 L1676.76,853.92 L1676.97,854.19 L1677.18,854.46 L1677.39,854.73 L1677.59,855.00 L1677.80,855.27 L1678.00,855.54 L1678.20,855.81 L1678.39,856.08 L1678.58,856.35 L1678.77,856.62 L1678.95,856.89 L1679.12,857.16 L1679.29,857.43 L1679.46,857.70 L1679.61,857.97 L1679.77,858.24 L1679.91,858.51 L1680.05,858.78 L1680.18,859.05 L1680.31,859.32 L1680.42,859.59 L1680.53,859.86 L1680.63,860.13 L1680.72,860.40 L1680.81,860.67 L1680.88,860.94 L1680.95,861.21 L1681.01,861.48 L1681.06,861.75 L1681.09,862.02 L1681.12,862.29 L1681.14,862.56 L1681.15,862.83 L1681.15,863.10 L1681.14,863.37 L1681.12,863.64 L1681.09,863.91 L1681.05,864.18 L1681.00,864.45 L1680.93,864.72 L1680.86,864.99 L1680.78,865.26 L1680.68,865.53 L1680.57,865.80 L1680.46,866.07 L1680.33,866.34 L1680.19,866.61 L1680.04,866.88 L1679.87,867.15 L1679.70,867.42 L1679.51,867.69 L1679.32,867.96 L1679.11,868.23 L1678.89,868.50 L1678.66,868.77 L1678.42,869.04 L1678.17,869.31 L1677.90,869.58 L1677.63,869.85 L1677.34,870.12 L1677.05,870.39 L1676.74,870.66 L1676.43,870.93 L1676.10,871.20 L1675.77,871.47 L1675.43,871.74 L1675.07,872.01 L1674.71,872.28 L1674.34,872.55 L1673.97,872.82 L1673.58,873.09 L1673.19,873.36 L1672.79,873.63 L1672.39,873.90 L1671.98,874.17 L1671.57,874.44 L1671.15,874.71 L1670.73,874.98 L1670.30,875.25 L1669.87,875.52 L1669.45,875.79 L1669.01,876.06 L1668.58,876.33 L1668.15,876.60 L1667.72,876.87 L1667.29,877.14 L1666.87,877.41 L1666.45,877.68 L1666.03,877.95 L1665.61,878.22 L1665.21,878.49 L1664.80,878.76 L1664.41,879.03 L1664.02,879.30 L1663.64,879.57 L1663.27,879.84 L1662.91,880.11 L1662.56,880.38 L1662.23,880.65 L1661.90,880.92 L1661.59,881.19 L1661.29,881.46 L1661.01,881.73 L1660.74,882.00 L1660.48,882.27 L1660.25,882.54 L1660.03,882.81 L1659.82,883.08 L1659.64,883.35 L1659.47,883.62 L1659.32,883.89 L1659.18,884.16 L1659.07,884.43 L1658.98,884.70 L1658.90,884.97 L1658.85,885.24 L1658.81,885.51 L1658.80,885.78 L1658.80,886.05 L1658.83,886.32 L1658.87,886.59 L1658.94,886.86 L1659.02,887.13 L1659.13,887.40 L1710.47,887.40 L1710.58,887.13 L1710.66,886.86 L1710.73,886.59 L1710.77,886.32 L1710.80,886.05 L1710.80,885.78 L1710.79,885.51 L1710.75,885.24 L1710.70,884.97 L1710.62,884.70 L1710.53,884.43 L1710.42,884.16 L1710.28,883.89 L1710.13,883.62 L1709.96,883.35 L1709.78,883.08 L1709.57,882.81 L1709.35,882.54 L1709.12,882.27 L1708.86,882.00 L1708.59,881.73 L1708.31,881.46 L1708.01,881.19 L1707.70,880.92 L1707.37,880.65 L1707.04,880.38 L1706.69,880.11 L1706.33,879.84 L1705.96,879.57 L1705.58,879.30 L1705.19,879.03 L1704.80,878.76 L1704.39,878.49 L1703.99,878.22 L1703.57,877.95 L1703.15,877.68 L1702.73,877.41 L1702.31,877.14 L1701.88,876.87 L1701.45,876.60 L1701.02,876.33 L1700.59,876.06 L1700.15,875.79 L1699.73,875.52 L1699.30,875.25 L1698.87,874.98 L1698.45,874.71 L1698.03,874.44 L1697.62,874.17 L1697.21,873.90 L1696.81,873.63 L1696.41,873.36 L1696.02,873.09 L1695.63,872.82 L1695.26,872.55 L1694.89,872.28 L1694.53,872.01 L1694.17,871.74 L1693.83,871.47 L1693.50,871.20 L1693.17,870.93 L1692.86,870.66 L1692.55,870.39 L1692.26,870.12 L1691.97,869.85 L1691.70,869.58 L1691.43,869.31 L1691.18,869.04 L1690.94,868.77 L1690.71,868.50 L1690.49,868.23 L1690.28,867.96 L1690.09,867.69 L1689.90,867.42 L1689.73,867.15 L1689.56,866.88 L1689.41,866.61 L1689.27,866.34 L1689.14,866.07 L1689.03,865.80 L1688.92,865.53 L1688.82,865.26 L1688.74,864.99 L1688.67,864.72 L1688.60,864.45 L1688.55,864.18 L1688.51,863.91 L1688.48,863.64 L1688.46,863.37 L1688.45,863.10 L1688.45,862.83 L1688.46,862.56 L1688.48,862.29 L1688.51,862.02 L1688.54,861.75 L1688.59,861.48 L1688.65,861.21 L1688.72,860.94 L1688.79,860.67 L1688.88,860.40 L1688.97,860.13 L1689.07,859.86 L1689.18,859.59 L1689.29,859.32 L1689.42,859.05 L1689.55,858.78 L1689.69,858.51 L1689.83,858.24 L1689.99,857.97 L1690.14,857.70 L1690.31,857.43 L1690.48,857.16 L1690.65,856.89 L1690.83,856.62 L1691.02,856.35 L1691.21,856.08 L1691.40,855.81 L1691.60,855.54 L1691.80,855.27 L1692.01,855.00 L1692.21,854.73 L1692.42,854.46 L1692.63,854.19 L1692.84,853.92 L1693.06,853.65 L1693.27,853.38 L1693.48,853.11 L1693.70,852.84 L1693.91,852.57 L1694.12,852.30 L1694.33,852.03 L1694.54,851.76 L1694.75,851.49 L1694.95,851.22 L1695.15,850.95 L1695.34,850.68 L1695.54,850.41 L1695.72,850.14 L1695.91,849.87 L1696.08,849.60 L1696.25,849.33 L1696.42,849.06 L1696.58,848.79 L1696.73,848.52 L1696.87,848.25 L1697.01,847.98 L1697.14,847.71 L1697.26,847.44 L1697.37,847.17 L1697.47,846.90 L1697.57,846.63 L1697.65,846.36 L1697.72,846.09 L1697.79,845.82 L1697.85,845.55 L1697.89,845.28 L1697.93,845.01 L1697.95,844.74 L1697.97,844.47 L1697.97,844.20 Z" fill="none" stroke="#000" stroke-width="3.5" stroke-linejoin="round"/>
<line x1="1660.07" y1="884.30" x2="1709.53" y2="884.30" stroke="#111" stroke-width="1.9" stroke-dasharray="4.6 4.3"/>
<circle cx="1599.2" cy="846.9" r="7.9" fill="#0000bd"/>
<circle cx="1585.3" cy="877.9" r="7.9" fill="#0000bd"/>
<circle cx="1613.6" cy="882.3" r="7.9" fill="#0000bd"/>
<circle cx="1684.8" cy="844.2" r="7.1" fill="none" stroke="#ff0000" stroke-width="4.1"/>
<circle cx="1670.5" cy="884.3" r="7.1" fill="none" stroke="#ff0000" stroke-width="4.1"/>
<circle cx="1698.9" cy="887.4" r="7.1" fill="none" stroke="#ff0000" stroke-width="4.1"/>
<path d="M1542.9,576.35 V937.25 M1742.5,576.35 V937.25" stroke="#000" stroke-width="3.5" fill="none"/>
<path d="M1541.15,578.1 H1744.25 M1541.15,935.5 H1744.25" stroke="#000" stroke-width="3.5" fill="none"/>
<text transform="translate(1442.90,831.60) rotate(-90)" class="yl1" style="font-size:30px" textLength="154.60" lengthAdjust="spacingAndGlyphs">Fold change</text>
<text transform="translate(1475.90,893.60) rotate(-90)" class="yl2" style="font-size:27px" textLength="276.90" lengthAdjust="spacingAndGlyphs">non-ROR<tspan class="gam">&#947;</tspan>t-flanking site</text>
<text x="1600.2" y="550.2" class="ti" style="font-size:30.3px">Egln3</text>
<text x="8" y="30.7" class="pl">a</text>
<text transform="translate(880.8,29.6) scale(1.03,1)" class="pl">b</text>
<text transform="translate(7.0,538.8) scale(1.09,1)" class="pl">c</text>
<text transform="translate(726.1,540.9) scale(1.09,1)" class="pl">d</text>
<circle cx="429.5" cy="22.4" r="11.6" fill="#0000bd"/>
<text transform="translate(460.2,32.2) scale(1,1.045)" class="lg">Normoxia</text>
<circle cx="658.4" cy="22.4" r="8.85" fill="none" stroke="#ff0000" stroke-width="5.6"/>
<text transform="translate(688.8,32.2) scale(1,1.045)" class="lg">Hypoxia 3 h</text>
<text x="1259.6" y="59.3" class="ti">Rorc</text>
</svg>
</body></html>
